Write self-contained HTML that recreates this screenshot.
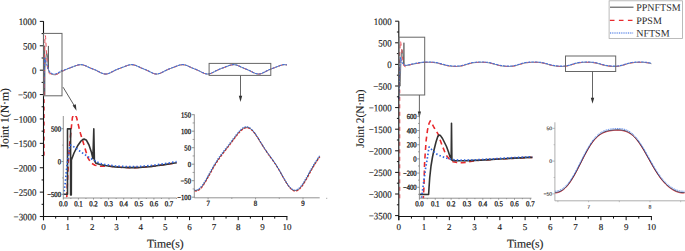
<!DOCTYPE html>
<html><head><meta charset="utf-8"><style>
html,body{margin:0;padding:0;background:#fff;width:685px;height:251px;overflow:hidden;}
svg{display:block;font-family:"Liberation Serif",serif;}
text{stroke:#222;stroke-width:0.15px;}
.sm{stroke-width:0.3px;fill:#111;}
</style></head><body>
<svg width="685" height="251" viewBox="0 0 685 251" font-family="Liberation Serif"><defs><clipPath id="cA1"><rect x="63.3" y="116" width="114" height="82"/></clipPath><clipPath id="cA2"><rect x="194.3" y="100" width="126" height="98"/></clipPath><clipPath id="cB1"><rect x="419.4" y="110" width="113" height="88.2"/></clipPath><clipPath id="cB2"><rect x="554.9" y="115" width="131" height="85.8"/></clipPath></defs>
<polyline points="43.5,94.57 44.18,94.57 44.18,45.94 44.68,45.94 44.68,95.02 44.79,95.02 44.81,69.06 45.22,63.86 45.87,58.06 46.35,54.94 46.68,53.75 46.92,53.52 47.24,54.42 47.64,57.91 48.05,63.49 48.27,67.95 48.42,45.94 48.51,69.44 48.77,71.52 49.42,72.41 50.22,73.15 51.03,73.75 51.83,74.2 52.64,74.49 53.45,74.64 54.25,74.72 55.06,74.72 55.86,74.57 56.67,74.27 57.48,73.97 58.28,73.53 59.09,73.01 59.89,72.49 60.7,71.89 61.76,71.07 62.49,71.2 62.97,70.94 63.46,70.7 63.95,70.46 64.43,70.22 64.92,70 65.41,69.78 65.89,69.56 66.38,69.36 66.87,69.16 67.35,68.97 67.84,68.78 68.33,68.59 68.81,68.41 69.3,68.23 69.79,68.05 70.27,67.87 70.76,67.69 71.25,67.51 71.73,67.33 72.22,67.14 72.71,66.96 73.19,66.77 73.68,66.58 74.17,66.39 74.66,66.2 75.14,66.02 75.63,65.84 76.12,65.66 76.6,65.49 77.09,65.34 77.58,65.2 78.06,65.07 78.55,64.96 79.04,64.87 79.52,64.8 80.01,64.75 80.5,64.72 80.98,64.73 81.47,64.75 81.96,64.8 82.44,64.88 82.93,64.98 83.42,65.11 83.9,65.25 84.39,65.42 84.88,65.6 85.36,65.79 85.85,66 86.34,66.22 86.83,66.44 87.31,66.67 87.8,66.9 88.29,67.13 88.77,67.35 89.26,67.58 89.75,67.8 90.23,68.01 90.72,68.22 91.21,68.42 91.69,68.62 92.18,68.81 92.67,69.01 93.15,69.2 93.64,69.39 94.13,69.59 94.61,69.79 95.1,69.99 95.59,70.2 96.07,70.42 96.56,70.64 97.05,70.88 97.53,71.11 98.02,71.36 98.51,71.61 99,71.86 99.48,72.11 99.97,72.36 100.46,72.6 100.94,72.83 101.43,73.05 101.92,73.26 102.4,73.45 102.89,73.62 103.38,73.76 103.86,73.88 104.35,73.97 104.84,74.04 105.32,74.07 105.81,74.07 106.3,74.04 106.78,73.98 107.27,73.89 107.76,73.78 108.24,73.64 108.73,73.47 109.22,73.29 109.7,73.09 110.19,72.87 110.68,72.63 111.17,72.39 111.65,72.14 112.14,71.89 112.63,71.63 113.11,71.38 113.6,71.12 114.09,70.87 114.57,70.63 115.06,70.39 115.55,70.16 116.03,69.93 116.52,69.72 117.01,69.51 117.49,69.3 117.98,69.1 118.47,68.91 118.95,68.72 119.44,68.54 119.93,68.36 120.41,68.18 120.9,68 121.39,67.82 121.87,67.64 122.36,67.46 122.85,67.28 123.34,67.09 123.82,66.9 124.31,66.72 124.8,66.53 125.28,66.34 125.77,66.15 126.26,65.97 126.74,65.79 127.23,65.61 127.72,65.45 128.2,65.3 128.69,65.16 129.18,65.03 129.66,64.93 130.15,64.84 130.64,64.78 131.12,64.74 131.61,64.72 132.1,64.73 132.58,64.76 133.07,64.82 133.56,64.91 134.04,65.01 134.53,65.14 135.02,65.29 135.51,65.46 135.99,65.65 136.48,65.85 136.97,66.06 137.45,66.28 137.94,66.51 138.43,66.73 138.91,66.96 139.4,67.19 139.89,67.42 140.37,67.64 140.86,67.86 141.35,68.07 141.83,68.27 142.32,68.48 142.81,68.67 143.29,68.87 143.78,69.06 144.27,69.25 144.75,69.45 145.24,69.64 145.73,69.84 146.21,70.05 146.7,70.26 147.19,70.48 147.68,70.71 148.16,70.94 148.65,71.18 149.14,71.43 149.62,71.68 150.11,71.93 150.6,72.18 151.08,72.42 151.57,72.66 152.06,72.9 152.54,73.11 153.03,73.32 153.52,73.5 154,73.66 154.49,73.8 154.98,73.91 155.46,73.99 155.95,74.05 156.44,74.07 156.92,74.07 157.41,74.03 157.9,73.96 158.38,73.87 158.87,73.74 159.36,73.59 159.85,73.42 160.33,73.23 160.82,73.03 161.31,72.8 161.79,72.57 162.28,72.32 162.77,72.07 163.25,71.82 163.74,71.56 164.23,71.31 164.71,71.05 165.2,70.81 165.69,70.56 166.17,70.32 166.66,70.09 167.15,69.87 167.63,69.66 168.12,69.45 168.61,69.25 169.09,69.05 169.58,68.86 170.07,68.67 170.55,68.49 171.04,68.31 171.53,68.13 172.02,67.95 172.5,67.77 172.99,67.59 173.48,67.41 173.96,67.22 174.45,67.04 174.94,66.85 175.42,66.66 175.91,66.47 176.4,66.28 176.88,66.1 177.37,65.91 177.86,65.74 178.34,65.57 178.83,65.41 179.32,65.26 179.8,65.12 180.29,65 180.78,64.9 181.26,64.82 181.75,64.77 182.24,64.73 182.72,64.72 183.21,64.74 183.7,64.78 184.19,64.84 184.67,64.93 185.16,65.05 185.65,65.18 186.13,65.34 186.62,65.51 187.11,65.7 187.59,65.91 188.08,66.12 188.57,66.34 189.05,66.57 189.54,66.8 190.03,67.03 190.51,67.26 191,67.48 191.49,67.7 191.97,67.92 192.46,68.13 192.95,68.33 193.43,68.53 193.92,68.73 194.41,68.92 194.89,69.11 195.38,69.31 195.87,69.5 196.36,69.7 196.84,69.9 197.33,70.11 197.82,70.32 198.3,70.54 198.79,70.77 199.28,71.01 199.76,71.25 200.25,71.5 200.74,71.75 201.22,72 201.71,72.25 202.2,72.49 202.68,72.73 203.17,72.96 203.66,73.17 204.14,73.37 204.63,73.55 205.12,73.7 205.6,73.83 206.09,73.94 206.58,74.01 207.06,74.06 207.55,74.07 208.04,74.06 208.53,74.01 209.01,73.94 209.5,73.83 209.99,73.7 210.47,73.55 210.96,73.37 211.45,73.18 211.93,72.96 212.42,72.74 212.91,72.5 213.39,72.25 213.88,72 214.37,71.75 214.85,71.49 215.34,71.24 215.83,70.98 216.31,70.74 216.8,70.49 217.29,70.26 217.77,70.03 218.26,69.81 218.75,69.6 219.23,69.39 219.72,69.19 220.21,69 220.7,68.81 221.18,68.62 221.67,68.44 222.16,68.26 222.64,68.08 223.13,67.9 223.62,67.72 224.1,67.54 224.59,67.36 225.08,67.17 225.56,66.99 226.05,66.8 226.54,66.61 227.02,66.42 227.51,66.23 228,66.05 228.48,65.86 228.97,65.69 229.46,65.52 229.94,65.36 230.43,65.22 230.92,65.09 231.4,64.97 231.89,64.88 232.38,64.81 232.87,64.75 233.35,64.73 233.84,64.72 234.33,64.75 234.81,64.79 235.3,64.87 235.79,64.96 236.27,65.08 236.76,65.23 237.25,65.39 237.73,65.57 238.22,65.76 238.71,65.97 239.19,66.18 239.68,66.41 240.17,66.63 240.65,66.86 241.14,67.09 241.63,67.32 242.11,67.54 242.6,67.76 243.09,67.98 243.57,68.18 244.06,68.39 244.55,68.59 245.04,68.78 245.52,68.98 246.01,69.17 246.5,69.36 246.98,69.56 247.47,69.75 247.96,69.96 248.44,70.17 248.93,70.38 249.42,70.61 249.9,70.84 250.39,71.08 250.88,71.32 251.36,71.57 251.85,71.82 252.34,72.07 252.82,72.32 253.31,72.56 253.8,72.8 254.28,73.02 254.77,73.23 255.26,73.42 255.74,73.59 256.23,73.74 256.72,73.87 257.21,73.96 257.69,74.03 258.18,74.07 258.67,74.07 259.15,74.05 259.64,73.99 260.13,73.91 260.61,73.8 261.1,73.66 261.59,73.5 262.07,73.32 262.56,73.12 263.05,72.9 263.53,72.67 264.02,72.43 264.51,72.18 264.99,71.93 265.48,71.67 265.97,71.42 266.45,71.16 266.94,70.91 267.43,70.67 267.91,70.43 268.4,70.19 268.89,69.97 269.38,69.75 269.86,69.54 270.35,69.33 270.84,69.14 271.32,68.94 271.81,68.75 272.3,68.57 272.78,68.39 273.27,68.21 273.76,68.03 274.24,67.85 274.73,67.67 275.22,67.49 275.7,67.31 276.19,67.12 276.68,66.93 277.16,66.75 277.65,66.56 278.14,66.37 278.62,66.18 279.11,65.99 279.6,65.81 280.08,65.64 280.57,65.47 281.06,65.32 281.55,65.18 282.03,65.05 282.52,64.94 283.01,64.86 283.49,64.79 283.98,64.74 284.47,64.72 284.95,64.73 285.44,64.76 285.93,64.81 286.41,64.89 286.9,65" fill="none" stroke="#555" stroke-width="0.8" stroke-linejoin="round" />
<polyline points="44.35,155.55 44.35,99.45 44.06,96.58 44.23,80.22 44.34,69.06 44.52,57.91 44.64,51.96 44.76,46.76 44.87,41.55 44.97,37.46 45.11,35.9 45.27,35.45 45.47,35.9 45.64,37.46 45.84,41.18 46.08,46.01 46.27,49.36 46.84,57.91 47.47,67.43 47.97,71.3 48.61,72.93 49.42,73.67 51.03,73.75 51.83,74.2 52.64,74.49 53.45,74.64 54.25,74.72 55.06,74.72 55.86,74.57 56.67,74.27 57.48,73.97 58.28,73.53 59.09,73.01 59.89,72.49 60.7,71.89 61.76,71.07 62.49,71.2 62.97,70.94 63.46,70.7 63.95,70.46 64.43,70.22 64.92,70 65.41,69.78 65.89,69.56 66.38,69.36 66.87,69.16 67.35,68.97 67.84,68.78 68.33,68.59 68.81,68.41 69.3,68.23 69.79,68.05 70.27,67.87 70.76,67.69 71.25,67.51 71.73,67.33 72.22,67.14 72.71,66.96 73.19,66.77 73.68,66.58 74.17,66.39 74.66,66.2 75.14,66.02 75.63,65.84 76.12,65.66 76.6,65.49 77.09,65.34 77.58,65.2 78.06,65.07 78.55,64.96 79.04,64.87 79.52,64.8 80.01,64.75 80.5,64.72 80.98,64.73 81.47,64.75 81.96,64.8 82.44,64.88 82.93,64.98 83.42,65.11 83.9,65.25 84.39,65.42 84.88,65.6 85.36,65.79 85.85,66 86.34,66.22 86.83,66.44 87.31,66.67 87.8,66.9 88.29,67.13 88.77,67.35 89.26,67.58 89.75,67.8 90.23,68.01 90.72,68.22 91.21,68.42 91.69,68.62 92.18,68.81 92.67,69.01 93.15,69.2 93.64,69.39 94.13,69.59 94.61,69.79 95.1,69.99 95.59,70.2 96.07,70.42 96.56,70.64 97.05,70.88 97.53,71.11 98.02,71.36 98.51,71.61 99,71.86 99.48,72.11 99.97,72.36 100.46,72.6 100.94,72.83 101.43,73.05 101.92,73.26 102.4,73.45 102.89,73.62 103.38,73.76 103.86,73.88 104.35,73.97 104.84,74.04 105.32,74.07 105.81,74.07 106.3,74.04 106.78,73.98 107.27,73.89 107.76,73.78 108.24,73.64 108.73,73.47 109.22,73.29 109.7,73.09 110.19,72.87 110.68,72.63 111.17,72.39 111.65,72.14 112.14,71.89 112.63,71.63 113.11,71.38 113.6,71.12 114.09,70.87 114.57,70.63 115.06,70.39 115.55,70.16 116.03,69.93 116.52,69.72 117.01,69.51 117.49,69.3 117.98,69.1 118.47,68.91 118.95,68.72 119.44,68.54 119.93,68.36 120.41,68.18 120.9,68 121.39,67.82 121.87,67.64 122.36,67.46 122.85,67.28 123.34,67.09 123.82,66.9 124.31,66.72 124.8,66.53 125.28,66.34 125.77,66.15 126.26,65.97 126.74,65.79 127.23,65.61 127.72,65.45 128.2,65.3 128.69,65.16 129.18,65.03 129.66,64.93 130.15,64.84 130.64,64.78 131.12,64.74 131.61,64.72 132.1,64.73 132.58,64.76 133.07,64.82 133.56,64.91 134.04,65.01 134.53,65.14 135.02,65.29 135.51,65.46 135.99,65.65 136.48,65.85 136.97,66.06 137.45,66.28 137.94,66.51 138.43,66.73 138.91,66.96 139.4,67.19 139.89,67.42 140.37,67.64 140.86,67.86 141.35,68.07 141.83,68.27 142.32,68.48 142.81,68.67 143.29,68.87 143.78,69.06 144.27,69.25 144.75,69.45 145.24,69.64 145.73,69.84 146.21,70.05 146.7,70.26 147.19,70.48 147.68,70.71 148.16,70.94 148.65,71.18 149.14,71.43 149.62,71.68 150.11,71.93 150.6,72.18 151.08,72.42 151.57,72.66 152.06,72.9 152.54,73.11 153.03,73.32 153.52,73.5 154,73.66 154.49,73.8 154.98,73.91 155.46,73.99 155.95,74.05 156.44,74.07 156.92,74.07 157.41,74.03 157.9,73.96 158.38,73.87 158.87,73.74 159.36,73.59 159.85,73.42 160.33,73.23 160.82,73.03 161.31,72.8 161.79,72.57 162.28,72.32 162.77,72.07 163.25,71.82 163.74,71.56 164.23,71.31 164.71,71.05 165.2,70.81 165.69,70.56 166.17,70.32 166.66,70.09 167.15,69.87 167.63,69.66 168.12,69.45 168.61,69.25 169.09,69.05 169.58,68.86 170.07,68.67 170.55,68.49 171.04,68.31 171.53,68.13 172.02,67.95 172.5,67.77 172.99,67.59 173.48,67.41 173.96,67.22 174.45,67.04 174.94,66.85 175.42,66.66 175.91,66.47 176.4,66.28 176.88,66.1 177.37,65.91 177.86,65.74 178.34,65.57 178.83,65.41 179.32,65.26 179.8,65.12 180.29,65 180.78,64.9 181.26,64.82 181.75,64.77 182.24,64.73 182.72,64.72 183.21,64.74 183.7,64.78 184.19,64.84 184.67,64.93 185.16,65.05 185.65,65.18 186.13,65.34 186.62,65.51 187.11,65.7 187.59,65.91 188.08,66.12 188.57,66.34 189.05,66.57 189.54,66.8 190.03,67.03 190.51,67.26 191,67.48 191.49,67.7 191.97,67.92 192.46,68.13 192.95,68.33 193.43,68.53 193.92,68.73 194.41,68.92 194.89,69.11 195.38,69.31 195.87,69.5 196.36,69.7 196.84,69.9 197.33,70.11 197.82,70.32 198.3,70.54 198.79,70.77 199.28,71.01 199.76,71.25 200.25,71.5 200.74,71.75 201.22,72 201.71,72.25 202.2,72.49 202.68,72.73 203.17,72.96 203.66,73.17 204.14,73.37 204.63,73.55 205.12,73.7 205.6,73.83 206.09,73.94 206.58,74.01 207.06,74.06 207.55,74.07 208.04,74.06 208.53,74.01 209.01,73.94 209.5,73.83 209.99,73.7 210.47,73.55 210.96,73.37 211.45,73.18 211.93,72.96 212.42,72.74 212.91,72.5 213.39,72.25 213.88,72 214.37,71.75 214.85,71.49 215.34,71.24 215.83,70.98 216.31,70.74 216.8,70.49 217.29,70.26 217.77,70.03 218.26,69.81 218.75,69.6 219.23,69.39 219.72,69.19 220.21,69 220.7,68.81 221.18,68.62 221.67,68.44 222.16,68.26 222.64,68.08 223.13,67.9 223.62,67.72 224.1,67.54 224.59,67.36 225.08,67.17 225.56,66.99 226.05,66.8 226.54,66.61 227.02,66.42 227.51,66.23 228,66.05 228.48,65.86 228.97,65.69 229.46,65.52 229.94,65.36 230.43,65.22 230.92,65.09 231.4,64.97 231.89,64.88 232.38,64.81 232.87,64.75 233.35,64.73 233.84,64.72 234.33,64.75 234.81,64.79 235.3,64.87 235.79,64.96 236.27,65.08 236.76,65.23 237.25,65.39 237.73,65.57 238.22,65.76 238.71,65.97 239.19,66.18 239.68,66.41 240.17,66.63 240.65,66.86 241.14,67.09 241.63,67.32 242.11,67.54 242.6,67.76 243.09,67.98 243.57,68.18 244.06,68.39 244.55,68.59 245.04,68.78 245.52,68.98 246.01,69.17 246.5,69.36 246.98,69.56 247.47,69.75 247.96,69.96 248.44,70.17 248.93,70.38 249.42,70.61 249.9,70.84 250.39,71.08 250.88,71.32 251.36,71.57 251.85,71.82 252.34,72.07 252.82,72.32 253.31,72.56 253.8,72.8 254.28,73.02 254.77,73.23 255.26,73.42 255.74,73.59 256.23,73.74 256.72,73.87 257.21,73.96 257.69,74.03 258.18,74.07 258.67,74.07 259.15,74.05 259.64,73.99 260.13,73.91 260.61,73.8 261.1,73.66 261.59,73.5 262.07,73.32 262.56,73.12 263.05,72.9 263.53,72.67 264.02,72.43 264.51,72.18 264.99,71.93 265.48,71.67 265.97,71.42 266.45,71.16 266.94,70.91 267.43,70.67 267.91,70.43 268.4,70.19 268.89,69.97 269.38,69.75 269.86,69.54 270.35,69.33 270.84,69.14 271.32,68.94 271.81,68.75 272.3,68.57 272.78,68.39 273.27,68.21 273.76,68.03 274.24,67.85 274.73,67.67 275.22,67.49 275.7,67.31 276.19,67.12 276.68,66.93 277.16,66.75 277.65,66.56 278.14,66.37 278.62,66.18 279.11,65.99 279.6,65.81 280.08,65.64 280.57,65.47 281.06,65.32 281.55,65.18 282.03,65.05 282.52,64.94 283.01,64.86 283.49,64.79 283.98,64.74 284.47,64.72 284.95,64.73 285.44,64.76 285.93,64.81 286.41,64.89 286.9,65" fill="none" stroke="#e8505a" stroke-width="1.0" stroke-dasharray="4 3.5" stroke-linejoin="round" />
<polyline points="43.5,95.09 43.77,87.65 44.1,72.78 44.42,63.12 44.58,57.91 44.9,58.28 45.55,60.36 46.19,62.52 46.84,64.6 47.48,66.69 48.13,68.47 48.77,70.03 49.42,71.67 50.22,72.41 51.03,73.01 51.83,73.45 52.64,73.75 53.45,73.9 54.25,73.97 55.06,73.97 55.86,73.82 56.67,73.53 57.48,73.23 58.28,72.78 59.09,72.26 59.89,71.74 60.7,71.15 61.76,70.33 62.49,71.05 62.97,70.8 63.46,70.55 63.95,70.31 64.43,70.08 64.92,69.85 65.41,69.63 65.89,69.42 66.38,69.21 66.87,69.01 67.35,68.82 67.84,68.63 68.33,68.45 68.81,68.26 69.3,68.08 69.79,67.9 70.27,67.73 70.76,67.55 71.25,67.36 71.73,67.18 72.22,67 72.71,66.81 73.19,66.62 73.68,66.43 74.17,66.24 74.66,66.06 75.14,65.87 75.63,65.69 76.12,65.51 76.6,65.35 77.09,65.19 77.58,65.05 78.06,64.92 78.55,64.81 79.04,64.72 79.52,64.65 80.01,64.6 80.5,64.58 80.98,64.58 81.47,64.61 81.96,64.66 82.44,64.73 82.93,64.84 83.42,64.96 83.9,65.1 84.39,65.27 84.88,65.45 85.36,65.65 85.85,65.85 86.34,66.07 86.83,66.3 87.31,66.52 87.8,66.75 88.29,66.98 88.77,67.21 89.26,67.43 89.75,67.65 90.23,67.86 90.72,68.07 91.21,68.27 91.69,68.47 92.18,68.67 92.67,68.86 93.15,69.05 93.64,69.25 94.13,69.44 94.61,69.64 95.1,69.85 95.59,70.06 96.07,70.27 96.56,70.5 97.05,70.73 97.53,70.97 98.02,71.21 98.51,71.46 99,71.71 99.48,71.96 99.97,72.21 100.46,72.45 100.94,72.69 101.43,72.91 101.92,73.11 102.4,73.3 102.89,73.47 103.38,73.62 103.86,73.74 104.35,73.83 104.84,73.89 105.32,73.92 105.81,73.92 106.3,73.9 106.78,73.84 107.27,73.75 107.76,73.63 108.24,73.49 108.73,73.33 109.22,73.14 109.7,72.94 110.19,72.72 110.68,72.49 111.17,72.25 111.65,72 112.14,71.74 112.63,71.49 113.11,71.23 113.6,70.98 114.09,70.73 114.57,70.48 115.06,70.24 115.55,70.01 116.03,69.79 116.52,69.57 117.01,69.36 117.49,69.16 117.98,68.96 118.47,68.77 118.95,68.58 119.44,68.39 119.93,68.21 120.41,68.03 120.9,67.85 121.39,67.68 121.87,67.5 122.36,67.31 122.85,67.13 123.34,66.94 123.82,66.76 124.31,66.57 124.8,66.38 125.28,66.19 125.77,66 126.26,65.82 126.74,65.64 127.23,65.47 127.72,65.3 128.2,65.15 128.69,65.01 129.18,64.89 129.66,64.78 130.15,64.7 130.64,64.63 131.12,64.59 131.61,64.58 132.1,64.58 132.58,64.62 133.07,64.68 133.56,64.76 134.04,64.87 134.53,65 135.02,65.15 135.51,65.32 135.99,65.5 136.48,65.7 136.97,65.91 137.45,66.13 137.94,66.36 138.43,66.59 138.91,66.82 139.4,67.05 139.89,67.27 140.37,67.49 140.86,67.71 141.35,67.92 141.83,68.13 142.32,68.33 142.81,68.53 143.29,68.72 143.78,68.91 144.27,69.11 144.75,69.3 145.24,69.5 145.73,69.7 146.21,69.9 146.7,70.12 147.19,70.34 147.68,70.56 148.16,70.8 148.65,71.04 149.14,71.28 149.62,71.53 150.11,71.78 150.6,72.03 151.08,72.28 151.57,72.52 152.06,72.75 152.54,72.97 153.03,73.17 153.52,73.35 154,73.52 154.49,73.65 154.98,73.76 155.46,73.85 155.95,73.9 156.44,73.93 156.92,73.92 157.41,73.88 157.9,73.81 158.38,73.72 158.87,73.6 159.36,73.45 159.85,73.28 160.33,73.09 160.82,72.88 161.31,72.66 161.79,72.42 162.28,72.18 162.77,71.93 163.25,71.67 163.74,71.42 164.23,71.16 164.71,70.91 165.2,70.66 165.69,70.42 166.17,70.18 166.66,69.95 167.15,69.73 167.63,69.51 168.12,69.3 168.61,69.1 169.09,68.9 169.58,68.71 170.07,68.53 170.55,68.34 171.04,68.16 171.53,67.98 172.02,67.8 172.5,67.62 172.99,67.44 173.48,67.26 173.96,67.08 174.45,66.89 174.94,66.7 175.42,66.52 175.91,66.33 176.4,66.14 176.88,65.95 177.37,65.77 177.86,65.59 178.34,65.42 178.83,65.26 179.32,65.11 179.8,64.98 180.29,64.86 180.78,64.76 181.26,64.68 181.75,64.62 182.24,64.59 182.72,64.58 183.21,64.59 183.7,64.63 184.19,64.7 184.67,64.79 185.16,64.9 185.65,65.04 186.13,65.19 186.62,65.37 187.11,65.56 187.59,65.76 188.08,65.98 188.57,66.2 189.05,66.42 189.54,66.65 190.03,66.88 190.51,67.11 191,67.33 191.49,67.55 191.97,67.77 192.46,67.98 192.95,68.19 193.43,68.39 193.92,68.58 194.41,68.78 194.89,68.97 195.38,69.16 195.87,69.36 196.36,69.55 196.84,69.75 197.33,69.96 197.82,70.18 198.3,70.4 198.79,70.63 199.28,70.86 199.76,71.1 200.25,71.35 200.74,71.6 201.22,71.85 201.71,72.1 202.2,72.35 202.68,72.58 203.17,72.81 203.66,73.03 204.14,73.22 204.63,73.4 205.12,73.56 205.6,73.69 206.09,73.79 206.58,73.87 207.06,73.91 207.55,73.93 208.04,73.91 208.53,73.87 209.01,73.79 209.5,73.69 209.99,73.56 210.47,73.4 210.96,73.23 211.45,73.03 211.93,72.82 212.42,72.59 212.91,72.35 213.39,72.11 213.88,71.85 214.37,71.6 214.85,71.34 215.34,71.09 215.83,70.84 216.31,70.59 216.8,70.35 217.29,70.11 217.77,69.88 218.26,69.66 218.75,69.45 219.23,69.24 219.72,69.04 220.21,68.85 220.7,68.66 221.18,68.47 221.67,68.29 222.16,68.11 222.64,67.93 223.13,67.75 223.62,67.57 224.1,67.39 224.59,67.21 225.08,67.03 225.56,66.84 226.05,66.65 226.54,66.46 227.02,66.27 227.51,66.09 228,65.9 228.48,65.72 228.97,65.54 229.46,65.37 229.94,65.22 230.43,65.07 230.92,64.94 231.4,64.83 231.89,64.73 232.38,64.66 232.87,64.61 233.35,64.58 233.84,64.58 234.33,64.6 234.81,64.65 235.3,64.72 235.79,64.82 236.27,64.94 236.76,65.08 237.25,65.24 237.73,65.42 238.22,65.61 238.71,65.82 239.19,66.04 239.68,66.26 240.17,66.49 240.65,66.72 241.14,66.95 241.63,67.17 242.11,67.4 242.6,67.62 243.09,67.83 243.57,68.04 244.06,68.24 244.55,68.44 245.04,68.64 245.52,68.83 246.01,69.02 246.5,69.22 246.98,69.41 247.47,69.61 247.96,69.81 248.44,70.02 248.93,70.24 249.42,70.46 249.9,70.69 250.39,70.93 250.88,71.17 251.36,71.42 251.85,71.67 252.34,71.92 252.82,72.17 253.31,72.41 253.8,72.65 254.28,72.87 254.77,73.08 255.26,73.28 255.74,73.45 256.23,73.6 256.72,73.72 257.21,73.82 257.69,73.88 258.18,73.92 258.67,73.93 259.15,73.9 259.64,73.85 260.13,73.76 260.61,73.65 261.1,73.52 261.59,73.36 262.07,73.17 262.56,72.97 263.05,72.76 263.53,72.53 264.02,72.28 264.51,72.04 264.99,71.78 265.48,71.53 265.97,71.27 266.45,71.02 266.94,70.77 267.43,70.52 267.91,70.28 268.4,70.05 268.89,69.82 269.38,69.6 269.86,69.39 270.35,69.19 270.84,68.99 271.32,68.8 271.81,68.61 272.3,68.42 272.78,68.24 273.27,68.06 273.76,67.88 274.24,67.7 274.73,67.52 275.22,67.34 275.7,67.16 276.19,66.97 276.68,66.79 277.16,66.6 277.65,66.41 278.14,66.22 278.62,66.03 279.11,65.85 279.6,65.67 280.08,65.49 280.57,65.33 281.06,65.17 281.55,65.03 282.03,64.91 282.52,64.8 283.01,64.71 283.49,64.64 283.98,64.6 284.47,64.58 284.95,64.58 285.44,64.61 285.93,64.67 286.41,64.74 286.9,64.85" fill="none" stroke="#4470dc" stroke-width="1.05" stroke-dasharray="2.6 1" stroke-linejoin="round" />
<line x1="43.5" y1="21.2" x2="43.5" y2="220.2" stroke="#111" stroke-width="1.1"/>
<line x1="43" y1="216.5" x2="287.4" y2="216.5" stroke="#111" stroke-width="1.1"/>
<line x1="39.8" y1="21.4" x2="43.5" y2="21.4" stroke="#111" stroke-width="1"/>
<text transform="translate(36.5,25.1) scale(0.92,1) rotate(0.05)" font-size="9.7" text-anchor="end" fill="#222" >1000</text>
<line x1="41.6" y1="33.6" x2="43.5" y2="33.6" stroke="#111" stroke-width="1"/>
<line x1="39.8" y1="45.79" x2="43.5" y2="45.79" stroke="#111" stroke-width="1"/>
<text transform="translate(36.5,49.49) scale(0.92,1) rotate(0.05)" font-size="9.7" text-anchor="end" fill="#222" >500</text>
<line x1="41.6" y1="57.99" x2="43.5" y2="57.99" stroke="#111" stroke-width="1"/>
<line x1="39.8" y1="70.18" x2="43.5" y2="70.18" stroke="#111" stroke-width="1"/>
<text transform="translate(36.5,73.88) scale(0.92,1) rotate(0.05)" font-size="9.7" text-anchor="end" fill="#222" >0</text>
<line x1="41.6" y1="82.38" x2="43.5" y2="82.38" stroke="#111" stroke-width="1"/>
<line x1="39.8" y1="94.57" x2="43.5" y2="94.57" stroke="#111" stroke-width="1"/>
<text transform="translate(36.5,98.27) scale(0.92,1) rotate(0.05)" font-size="9.7" text-anchor="end" fill="#222" >−500</text>
<line x1="41.6" y1="106.77" x2="43.5" y2="106.77" stroke="#111" stroke-width="1"/>
<line x1="39.8" y1="118.96" x2="43.5" y2="118.96" stroke="#111" stroke-width="1"/>
<text transform="translate(36.5,122.66) scale(0.92,1) rotate(0.05)" font-size="9.7" text-anchor="end" fill="#222" >−1000</text>
<line x1="41.6" y1="131.16" x2="43.5" y2="131.16" stroke="#111" stroke-width="1"/>
<line x1="39.8" y1="143.35" x2="43.5" y2="143.35" stroke="#111" stroke-width="1"/>
<text transform="translate(36.5,147.05) scale(0.92,1) rotate(0.05)" font-size="9.7" text-anchor="end" fill="#222" >−1500</text>
<line x1="41.6" y1="155.55" x2="43.5" y2="155.55" stroke="#111" stroke-width="1"/>
<line x1="39.8" y1="167.74" x2="43.5" y2="167.74" stroke="#111" stroke-width="1"/>
<text transform="translate(36.5,171.44) scale(0.92,1) rotate(0.05)" font-size="9.7" text-anchor="end" fill="#222" >−2000</text>
<line x1="41.6" y1="179.94" x2="43.5" y2="179.94" stroke="#111" stroke-width="1"/>
<line x1="39.8" y1="192.13" x2="43.5" y2="192.13" stroke="#111" stroke-width="1"/>
<text transform="translate(36.5,195.83) scale(0.92,1) rotate(0.05)" font-size="9.7" text-anchor="end" fill="#222" >−2500</text>
<line x1="41.6" y1="204.32" x2="43.5" y2="204.32" stroke="#111" stroke-width="1"/>
<line x1="39.8" y1="216.52" x2="43.5" y2="216.52" stroke="#111" stroke-width="1"/>
<text transform="translate(36.5,220.22) scale(0.92,1) rotate(0.05)" font-size="9.7" text-anchor="end" fill="#222" >−3000</text>
<line x1="43.5" y1="216.5" x2="43.5" y2="220.2" stroke="#111" stroke-width="1"/>
<text transform="translate(43.5,229.9) rotate(0.05)" font-size="9" text-anchor="middle" fill="#222" >0</text>
<line x1="55.67" y1="216.5" x2="55.67" y2="218.6" stroke="#111" stroke-width="1"/>
<line x1="67.84" y1="216.5" x2="67.84" y2="220.2" stroke="#111" stroke-width="1"/>
<text transform="translate(67.84,229.9) rotate(0.05)" font-size="9" text-anchor="middle" fill="#222" >1</text>
<line x1="80.01" y1="216.5" x2="80.01" y2="218.6" stroke="#111" stroke-width="1"/>
<line x1="92.18" y1="216.5" x2="92.18" y2="220.2" stroke="#111" stroke-width="1"/>
<text transform="translate(92.18,229.9) rotate(0.05)" font-size="9" text-anchor="middle" fill="#222" >2</text>
<line x1="104.35" y1="216.5" x2="104.35" y2="218.6" stroke="#111" stroke-width="1"/>
<line x1="116.52" y1="216.5" x2="116.52" y2="220.2" stroke="#111" stroke-width="1"/>
<text transform="translate(116.52,229.9) rotate(0.05)" font-size="9" text-anchor="middle" fill="#222" >3</text>
<line x1="128.69" y1="216.5" x2="128.69" y2="218.6" stroke="#111" stroke-width="1"/>
<line x1="140.86" y1="216.5" x2="140.86" y2="220.2" stroke="#111" stroke-width="1"/>
<text transform="translate(140.86,229.9) rotate(0.05)" font-size="9" text-anchor="middle" fill="#222" >4</text>
<line x1="153.03" y1="216.5" x2="153.03" y2="218.6" stroke="#111" stroke-width="1"/>
<line x1="165.2" y1="216.5" x2="165.2" y2="220.2" stroke="#111" stroke-width="1"/>
<text transform="translate(165.2,229.9) rotate(0.05)" font-size="9" text-anchor="middle" fill="#222" >5</text>
<line x1="177.37" y1="216.5" x2="177.37" y2="218.6" stroke="#111" stroke-width="1"/>
<line x1="189.54" y1="216.5" x2="189.54" y2="220.2" stroke="#111" stroke-width="1"/>
<text transform="translate(189.54,229.9) rotate(0.05)" font-size="9" text-anchor="middle" fill="#222" >6</text>
<line x1="201.71" y1="216.5" x2="201.71" y2="218.6" stroke="#111" stroke-width="1"/>
<line x1="213.88" y1="216.5" x2="213.88" y2="220.2" stroke="#111" stroke-width="1"/>
<text transform="translate(213.88,229.9) rotate(0.05)" font-size="9" text-anchor="middle" fill="#222" >7</text>
<line x1="226.05" y1="216.5" x2="226.05" y2="218.6" stroke="#111" stroke-width="1"/>
<line x1="238.22" y1="216.5" x2="238.22" y2="220.2" stroke="#111" stroke-width="1"/>
<text transform="translate(238.22,229.9) rotate(0.05)" font-size="9" text-anchor="middle" fill="#222" >8</text>
<line x1="250.39" y1="216.5" x2="250.39" y2="218.6" stroke="#111" stroke-width="1"/>
<line x1="262.56" y1="216.5" x2="262.56" y2="220.2" stroke="#111" stroke-width="1"/>
<text transform="translate(262.56,229.9) rotate(0.05)" font-size="9" text-anchor="middle" fill="#222" >9</text>
<line x1="274.73" y1="216.5" x2="274.73" y2="218.6" stroke="#111" stroke-width="1"/>
<line x1="286.9" y1="216.5" x2="286.9" y2="220.2" stroke="#111" stroke-width="1"/>
<text transform="translate(286.9,229.9) rotate(0.05)" font-size="9" text-anchor="middle" fill="#222" >10</text>
<text transform="translate(165.3,247.6) rotate(0.05)" font-size="11.7" text-anchor="middle" fill="#222" >Time(s)</text>
<text transform="translate(8.6,118.3) rotate(-89.95)" font-size="11.6" text-anchor="middle" fill="#222">Joint 1(N·m)</text>
<rect x="43.5" y="33.4" width="18.5" height="62.4" fill="none" stroke="#666" stroke-width="1"/>
<rect x="209.1" y="63.4" width="61.7" height="12" fill="none" stroke="#666" stroke-width="1"/>
<line x1="63.1" y1="87.2" x2="75.4" y2="107.5" stroke="#333" stroke-width="0.8"/>
<polygon points="76.5,110.8 72.6,105.6 75.8,104.2" fill="#333"/>
<line x1="240.5" y1="75.6" x2="240.5" y2="97" stroke="#555" stroke-width="0.9"/>
<polygon points="240.5,102 238.8,95.8 242.2,95.8" fill="#333"/>
<g clip-path="url(#cA1)">
<polyline points="68.58,276.3 68.58,200.86 66.8,197 67.8,175 68.5,160 69.6,145 70.4,137 71.1,130 71.8,123 72.4,117.5 73.3,115.4 74.3,114.8 75.5,115.4 76.6,117.5 77.8,122.5 79.3,129 80.5,133.5 84,145 87.9,157.8 91,163 95,165.2 100,166.2 110,166.3 115,166.9 120,167.3 125,167.5 130,167.6 135,167.6 140,167.4 145,167 150,166.6 155,166 160,165.3 165,164.6 170,163.8 176.6,162.7" fill="none" stroke="#e82a2e" stroke-width="1.6" stroke-dasharray="5 3.5" stroke-linejoin="round" stroke-dashoffset="5.38"/>
<polyline points="63.3,194.3 67.5,194.3 67.5,128.9 70.6,128.9 70.6,194.9 71.3,194.9 71.4,160 74,153 78,145.2 81,141 83,139.4 84.5,139.1 86.5,140.3 89,145 91.5,152.5 92.9,158.5 93.8,128.9 94.4,160.5 96,163.3 100,164.5 105,165.5 110,166.3 115,166.9 120,167.3 125,167.5 130,167.6 135,167.6 140,167.4 145,167 150,166.6 155,166 160,165.3 165,164.6 170,163.8 176.6,162.7" fill="none" stroke="#333" stroke-width="1.6" stroke-linejoin="round" />
<polyline points="63.3,195 65,185 67,165 69,152 70,145 72,145.5 76,148.3 80,151.2 84,154 88,156.8 92,159.2 96,161.3 100,163.5 105,164.5 110,165.3 115,165.9 120,166.3 125,166.5 130,166.6 135,166.6 140,166.4 145,166 150,165.6 155,165 160,164.3 165,163.6 170,162.8 176.6,161.7" fill="none" stroke="#2d64e0" stroke-width="1.7" stroke-dasharray="1.5 2.1" stroke-linejoin="round" />
</g>
<line x1="63.3" y1="116" x2="63.3" y2="198.3" stroke="#777" stroke-width="0.8"/>
<line x1="63.3" y1="198" x2="176.5" y2="198" stroke="#777" stroke-width="0.8"/>
<line x1="61.4" y1="128.7" x2="63.3" y2="128.7" stroke="#777" stroke-width="0.8"/>
<text transform="translate(61,131.4) scale(0.88,1) rotate(0.05)" font-size="7.6" text-anchor="end" fill="#222" class="sm">500</text>
<line x1="61.4" y1="161.5" x2="63.3" y2="161.5" stroke="#777" stroke-width="0.8"/>
<text transform="translate(61,164.2) scale(0.88,1) rotate(0.05)" font-size="7.6" text-anchor="end" fill="#222" class="sm">0</text>
<line x1="61.4" y1="194.3" x2="63.3" y2="194.3" stroke="#777" stroke-width="0.8"/>
<text transform="translate(61,197) scale(0.88,1) rotate(0.05)" font-size="7.6" text-anchor="end" fill="#222" class="sm">−500</text>
<line x1="62.2" y1="145.1" x2="63.3" y2="145.1" stroke="#777" stroke-width="0.7"/>
<line x1="62.2" y1="177.9" x2="63.3" y2="177.9" stroke="#777" stroke-width="0.7"/>
<line x1="63.3" y1="198" x2="63.3" y2="199.6" stroke="#777" stroke-width="0.7"/>
<text transform="translate(63.3,206.3) scale(0.9,1) rotate(0.05)" font-size="7.6" text-anchor="middle" fill="#222" class="sm">0.0</text>
<line x1="70.85" y1="198" x2="70.85" y2="199" stroke="#777" stroke-width="0.7"/>
<line x1="78.4" y1="198" x2="78.4" y2="199.6" stroke="#777" stroke-width="0.7"/>
<text transform="translate(78.4,206.3) scale(0.9,1) rotate(0.05)" font-size="7.6" text-anchor="middle" fill="#222" class="sm">0.1</text>
<line x1="85.95" y1="198" x2="85.95" y2="199" stroke="#777" stroke-width="0.7"/>
<line x1="93.5" y1="198" x2="93.5" y2="199.6" stroke="#777" stroke-width="0.7"/>
<text transform="translate(93.5,206.3) scale(0.9,1) rotate(0.05)" font-size="7.6" text-anchor="middle" fill="#222" class="sm">0.2</text>
<line x1="101.05" y1="198" x2="101.05" y2="199" stroke="#777" stroke-width="0.7"/>
<line x1="108.6" y1="198" x2="108.6" y2="199.6" stroke="#777" stroke-width="0.7"/>
<text transform="translate(108.6,206.3) scale(0.9,1) rotate(0.05)" font-size="7.6" text-anchor="middle" fill="#222" class="sm">0.3</text>
<line x1="116.15" y1="198" x2="116.15" y2="199" stroke="#777" stroke-width="0.7"/>
<line x1="123.7" y1="198" x2="123.7" y2="199.6" stroke="#777" stroke-width="0.7"/>
<text transform="translate(123.7,206.3) scale(0.9,1) rotate(0.05)" font-size="7.6" text-anchor="middle" fill="#222" class="sm">0.4</text>
<line x1="131.25" y1="198" x2="131.25" y2="199" stroke="#777" stroke-width="0.7"/>
<line x1="138.8" y1="198" x2="138.8" y2="199.6" stroke="#777" stroke-width="0.7"/>
<text transform="translate(138.8,206.3) scale(0.9,1) rotate(0.05)" font-size="7.6" text-anchor="middle" fill="#222" class="sm">0.5</text>
<line x1="146.35" y1="198" x2="146.35" y2="199" stroke="#777" stroke-width="0.7"/>
<line x1="153.9" y1="198" x2="153.9" y2="199.6" stroke="#777" stroke-width="0.7"/>
<text transform="translate(153.9,206.3) scale(0.9,1) rotate(0.05)" font-size="7.6" text-anchor="middle" fill="#222" class="sm">0.6</text>
<line x1="161.45" y1="198" x2="161.45" y2="199" stroke="#777" stroke-width="0.7"/>
<line x1="169" y1="198" x2="169" y2="199.6" stroke="#777" stroke-width="0.7"/>
<text transform="translate(169,206.3) scale(0.9,1) rotate(0.05)" font-size="7.6" text-anchor="middle" fill="#222" class="sm">0.7</text>
<line x1="176.55" y1="198" x2="176.55" y2="199" stroke="#777" stroke-width="0.7"/>
<polyline points="194.5,190.85 195.34,191.04 196.17,191.08 197.01,190.96 197.84,190.68 198.68,190.25 199.52,189.66 200.35,188.94 201.19,188.08 202.02,187.1 202.86,186.01 203.7,184.82 204.53,183.54 205.37,182.19 206.2,180.78 207.04,179.33 207.88,177.84 208.71,176.32 209.55,174.8 210.38,173.27 211.22,171.76 212.06,170.26 212.89,168.78 213.73,167.33 214.56,165.92 215.4,164.54 216.24,163.2 217.07,161.89 217.91,160.63 218.74,159.4 219.58,158.21 220.42,157.04 221.25,155.91 222.09,154.79 222.92,153.7 223.76,152.62 224.6,151.54 225.43,150.48 226.27,149.41 227.1,148.34 227.94,147.26 228.78,146.18 229.61,145.08 230.45,143.98 231.28,142.87 232.12,141.74 232.96,140.62 233.79,139.49 234.63,138.36 235.46,137.25 236.3,136.16 237.14,135.09 237.97,134.05 238.81,133.06 239.64,132.13 240.48,131.26 241.32,130.47 242.15,129.77 242.99,129.16 243.82,128.65 244.66,128.26 245.5,127.99 246.33,127.85 247.17,127.83 248,127.95 248.84,128.2 249.68,128.59 250.51,129.1 251.35,129.74 252.18,130.5 253.02,131.36 253.86,132.33 254.69,133.4 255.53,134.54 256.36,135.75 257.2,137.01 258.04,138.32 258.87,139.66 259.71,141.02 260.54,142.39 261.38,143.75 262.22,145.11 263.05,146.45 263.89,147.76 264.72,149.05 265.56,150.32 266.4,151.55 267.23,152.76 268.07,153.95 268.9,155.12 269.74,156.27 270.58,157.42 271.41,158.56 272.25,159.72 273.08,160.89 273.92,162.07 274.76,163.29 275.59,164.54 276.43,165.82 277.26,167.14 278.1,168.5 278.94,169.89 279.77,171.32 280.61,172.78 281.44,174.26 282.28,175.75 283.12,177.24 283.95,178.73 284.79,180.19 285.62,181.62 286.46,183 287.3,184.31 288.13,185.54 288.97,186.68 289.8,187.71 290.64,188.63 291.48,189.41 292.31,190.05 293.15,190.54 293.98,190.88 294.82,191.06 295.66,191.08 296.49,190.94 297.33,190.64 298.16,190.18 299,189.58 299.84,188.84 300.67,187.96 301.51,186.97 302.34,185.86 303.18,184.66 304.02,183.38 304.85,182.02 305.69,180.6 306.52,179.14 307.36,177.65 308.2,176.13 309.03,174.61 309.87,173.08 310.7,171.57 311.54,170.07 312.38,168.6 313.21,167.15 314.05,165.74 314.88,164.37 315.72,163.03 316.56,161.73 317.39,160.47 318.23,159.25 319.06,158.06 319.9,156.9" fill="none" stroke="#e82a2e" stroke-width="1.1" stroke-dasharray="2.5 1.2" stroke-linejoin="round" />
<polyline points="194.3,190.3 195.14,190.49 195.97,190.53 196.81,190.41 197.64,190.13 198.48,189.7 199.32,189.11 200.15,188.39 200.99,187.53 201.82,186.55 202.66,185.46 203.5,184.27 204.33,182.99 205.17,181.64 206,180.23 206.84,178.78 207.68,177.29 208.51,175.77 209.35,174.25 210.18,172.72 211.02,171.21 211.86,169.71 212.69,168.23 213.53,166.78 214.36,165.37 215.2,163.99 216.04,162.65 216.87,161.34 217.71,160.08 218.54,158.85 219.38,157.66 220.22,156.49 221.05,155.36 221.89,154.24 222.72,153.15 223.56,152.07 224.4,150.99 225.23,149.93 226.07,148.86 226.9,147.79 227.74,146.71 228.58,145.63 229.41,144.53 230.25,143.43 231.08,142.32 231.92,141.19 232.76,140.07 233.59,138.94 234.43,137.81 235.26,136.7 236.1,135.61 236.94,134.54 237.77,133.5 238.61,132.51 239.44,131.58 240.28,130.71 241.12,129.92 241.95,129.22 242.79,128.61 243.62,128.1 244.46,127.71 245.3,127.44 246.13,127.3 246.97,127.28 247.8,127.4 248.64,127.65 249.48,128.04 250.31,128.55 251.15,129.19 251.98,129.95 252.82,130.81 253.66,131.78 254.49,132.85 255.33,133.99 256.16,135.2 257,136.46 257.84,137.77 258.67,139.11 259.51,140.47 260.34,141.84 261.18,143.2 262.02,144.56 262.85,145.9 263.69,147.21 264.52,148.5 265.36,149.77 266.2,151 267.03,152.21 267.87,153.4 268.7,154.57 269.54,155.72 270.38,156.87 271.21,158.01 272.05,159.17 272.88,160.34 273.72,161.52 274.56,162.74 275.39,163.99 276.23,165.27 277.06,166.59 277.9,167.95 278.74,169.34 279.57,170.77 280.41,172.23 281.24,173.71 282.08,175.2 282.92,176.69 283.75,178.18 284.59,179.64 285.42,181.07 286.26,182.45 287.1,183.76 287.93,184.99 288.77,186.13 289.6,187.16 290.44,188.08 291.28,188.86 292.11,189.5 292.95,189.99 293.78,190.33 294.62,190.51 295.46,190.53 296.29,190.39 297.13,190.09 297.96,189.63 298.8,189.03 299.64,188.29 300.47,187.41 301.31,186.42 302.14,185.31 302.98,184.11 303.82,182.83 304.65,181.47 305.49,180.05 306.32,178.59 307.16,177.1 308,175.58 308.83,174.06 309.67,172.53 310.5,171.02 311.34,169.52 312.18,168.05 313.01,166.6 313.85,165.19 314.68,163.82 315.52,162.48 316.36,161.18 317.19,159.92 318.03,158.7 318.86,157.51 319.7,156.35" fill="none" stroke="#444" stroke-width="0.9" stroke-linejoin="round" />
<polyline points="194.1,189.75 194.94,189.94 195.77,189.98 196.61,189.86 197.44,189.58 198.28,189.15 199.12,188.56 199.95,187.84 200.79,186.98 201.62,186 202.46,184.91 203.3,183.72 204.13,182.44 204.97,181.09 205.8,179.68 206.64,178.23 207.48,176.74 208.31,175.22 209.15,173.7 209.98,172.17 210.82,170.66 211.66,169.16 212.49,167.68 213.33,166.23 214.16,164.82 215,163.44 215.84,162.1 216.67,160.79 217.51,159.53 218.34,158.3 219.18,157.11 220.02,155.94 220.85,154.81 221.69,153.69 222.52,152.6 223.36,151.52 224.2,150.44 225.03,149.38 225.87,148.31 226.7,147.24 227.54,146.16 228.38,145.08 229.21,143.98 230.05,142.88 230.88,141.77 231.72,140.64 232.56,139.52 233.39,138.39 234.23,137.26 235.06,136.15 235.9,135.06 236.74,133.99 237.57,132.95 238.41,131.96 239.24,131.03 240.08,130.16 240.92,129.37 241.75,128.67 242.59,128.06 243.42,127.55 244.26,127.16 245.1,126.89 245.93,126.75 246.77,126.73 247.6,126.85 248.44,127.1 249.28,127.49 250.11,128 250.95,128.64 251.78,129.4 252.62,130.26 253.46,131.23 254.29,132.3 255.13,133.44 255.96,134.65 256.8,135.91 257.64,137.22 258.47,138.56 259.31,139.92 260.14,141.29 260.98,142.65 261.82,144.01 262.65,145.35 263.49,146.66 264.32,147.95 265.16,149.22 266,150.45 266.83,151.66 267.67,152.85 268.5,154.02 269.34,155.17 270.18,156.32 271.01,157.46 271.85,158.62 272.68,159.79 273.52,160.97 274.36,162.19 275.19,163.44 276.03,164.72 276.86,166.04 277.7,167.4 278.54,168.79 279.37,170.22 280.21,171.68 281.04,173.16 281.88,174.65 282.72,176.14 283.55,177.63 284.39,179.09 285.22,180.52 286.06,181.9 286.9,183.21 287.73,184.44 288.57,185.58 289.4,186.61 290.24,187.53 291.08,188.31 291.91,188.95 292.75,189.44 293.58,189.78 294.42,189.96 295.26,189.98 296.09,189.84 296.93,189.54 297.76,189.08 298.6,188.48 299.44,187.74 300.27,186.86 301.11,185.87 301.94,184.76 302.78,183.56 303.62,182.28 304.45,180.92 305.29,179.5 306.12,178.04 306.96,176.55 307.8,175.03 308.63,173.51 309.47,171.98 310.3,170.47 311.14,168.97 311.98,167.5 312.81,166.05 313.65,164.64 314.48,163.27 315.32,161.93 316.16,160.63 316.99,159.37 317.83,158.15 318.66,156.96 319.5,155.8" fill="none" stroke="#3d6fe0" stroke-width="1.1" stroke-dasharray="1.2 1.3" stroke-linejoin="round" />
<line x1="194.3" y1="114.4" x2="194.3" y2="197.8" stroke="#777" stroke-width="0.8"/>
<line x1="194.3" y1="197.8" x2="319.7" y2="197.8" stroke="#777" stroke-width="0.8"/>
<line x1="191.6" y1="114.7" x2="194.3" y2="114.7" stroke="#777" stroke-width="0.8"/>
<text transform="translate(191,117.5) scale(0.88,1) rotate(0.05)" font-size="7.6" text-anchor="end" fill="#222" class="sm">150</text>
<line x1="192.6" y1="122.95" x2="194.3" y2="122.95" stroke="#777" stroke-width="0.7"/>
<line x1="191.6" y1="131.2" x2="194.3" y2="131.2" stroke="#777" stroke-width="0.8"/>
<text transform="translate(191,134) scale(0.88,1) rotate(0.05)" font-size="7.6" text-anchor="end" fill="#222" class="sm">100</text>
<line x1="192.6" y1="139.45" x2="194.3" y2="139.45" stroke="#777" stroke-width="0.7"/>
<line x1="191.6" y1="147.7" x2="194.3" y2="147.7" stroke="#777" stroke-width="0.8"/>
<text transform="translate(191,150.5) scale(0.88,1) rotate(0.05)" font-size="7.6" text-anchor="end" fill="#222" class="sm">50</text>
<line x1="192.6" y1="155.95" x2="194.3" y2="155.95" stroke="#777" stroke-width="0.7"/>
<line x1="191.6" y1="164.2" x2="194.3" y2="164.2" stroke="#777" stroke-width="0.8"/>
<text transform="translate(191,167) scale(0.88,1) rotate(0.05)" font-size="7.6" text-anchor="end" fill="#222" class="sm">0</text>
<line x1="192.6" y1="172.45" x2="194.3" y2="172.45" stroke="#777" stroke-width="0.7"/>
<line x1="191.6" y1="180.7" x2="194.3" y2="180.7" stroke="#777" stroke-width="0.8"/>
<text transform="translate(191,183.5) scale(0.88,1) rotate(0.05)" font-size="7.6" text-anchor="end" fill="#222" class="sm">−50</text>
<line x1="192.6" y1="188.95" x2="194.3" y2="188.95" stroke="#777" stroke-width="0.7"/>
<line x1="191.6" y1="197.2" x2="194.3" y2="197.2" stroke="#777" stroke-width="0.8"/>
<text transform="translate(191,200) scale(0.88,1) rotate(0.05)" font-size="7.6" text-anchor="end" fill="#222" class="sm">−100</text>
<line x1="208.1" y1="197.8" x2="208.1" y2="199.4" stroke="#777" stroke-width="0.7"/>
<text transform="translate(208.1,205.8) scale(0.9,1) rotate(0.05)" font-size="7.6" text-anchor="middle" fill="#222" class="sm">7</text>
<line x1="231.82" y1="197.8" x2="231.82" y2="198.9" stroke="#777" stroke-width="0.7"/>
<line x1="255.55" y1="197.8" x2="255.55" y2="199.4" stroke="#777" stroke-width="0.7"/>
<text transform="translate(255.55,205.8) scale(0.9,1) rotate(0.05)" font-size="7.6" text-anchor="middle" fill="#222" class="sm">8</text>
<line x1="279.27" y1="197.8" x2="279.27" y2="198.9" stroke="#777" stroke-width="0.7"/>
<line x1="303" y1="197.8" x2="303" y2="199.4" stroke="#777" stroke-width="0.7"/>
<text transform="translate(303,205.8) scale(0.9,1) rotate(0.05)" font-size="7.6" text-anchor="middle" fill="#222" class="sm">9</text>
<line x1="326.73" y1="197.8" x2="326.73" y2="198.9" stroke="#777" stroke-width="0.7"/>
<polyline points="398.8,86 400.27,86.09 400.33,82.13 400.44,76.04 400.65,68.73 400.89,63.24 401.13,58.98 401.45,54.1 401.73,50.75 401.91,49.78 402.16,50.2 402.48,51.97 402.8,54.41 403.12,56.84 403.44,60.2 403.68,63.06 403.87,64.03 403.92,42.71 403.98,65.25 404.47,65.44 405.27,65.56 406.07,65.53 406.86,65.44 407.66,65.31 408.46,65.19 409.25,65.01 410.05,64.83 410.85,64.64 411.65,64.46 412.44,64.28 413.24,64.1 414.04,63.94 414.83,63.79 415.63,63.64 416.43,63.49 416.99,63.51 417.49,63.38 418,63.26 418.5,63.14 419.01,63.04 419.51,62.94 420.02,62.85 420.52,62.77 421.03,62.7 421.53,62.64 422.04,62.59 422.54,62.54 423.05,62.5 423.55,62.47 424.06,62.44 424.57,62.42 425.07,62.4 425.58,62.38 426.08,62.37 426.59,62.36 427.09,62.35 427.6,62.34 428.1,62.34 428.61,62.34 429.11,62.34 429.62,62.34 430.12,62.35 430.63,62.36 431.13,62.37 431.64,62.39 432.14,62.41 432.65,62.44 433.15,62.48 433.66,62.53 434.16,62.58 434.67,62.64 435.17,62.71 435.68,62.79 436.18,62.87 436.69,62.97 437.2,63.07 437.7,63.18 438.21,63.3 438.71,63.43 439.22,63.56 439.72,63.69 440.23,63.83 440.73,63.97 441.24,64.12 441.74,64.26 442.25,64.41 442.75,64.55 443.26,64.7 443.76,64.83 444.27,64.97 444.77,65.1 445.28,65.22 445.78,65.34 446.29,65.46 446.79,65.56 447.3,65.67 447.8,65.76 448.31,65.85 448.81,65.93 449.32,66 449.83,66.07 450.33,66.14 450.84,66.19 451.34,66.25 451.85,66.29 452.35,66.34 452.86,66.37 453.36,66.4 453.87,66.43 454.37,66.45 454.88,66.46 455.38,66.47 455.89,66.47 456.39,66.47 456.9,66.46 457.4,66.44 457.91,66.41 458.41,66.37 458.92,66.32 459.42,66.26 459.93,66.2 460.43,66.12 460.94,66.03 461.44,65.93 461.95,65.83 462.46,65.71 462.96,65.58 463.47,65.45 463.97,65.31 464.48,65.16 464.98,65.01 465.49,64.85 465.99,64.69 466.5,64.53 467,64.37 467.51,64.21 468.01,64.05 468.52,63.9 469.02,63.75 469.53,63.61 470.03,63.47 470.54,63.34 471.04,63.22 471.55,63.11 472.05,63.01 472.56,62.91 473.06,62.83 473.57,62.75 474.07,62.69 474.58,62.63 475.09,62.57 475.59,62.53 476.1,62.49 476.6,62.46 477.11,62.43 477.61,62.41 478.12,62.39 478.62,62.38 479.13,62.36 479.63,62.35 480.14,62.35 480.64,62.34 481.15,62.34 481.65,62.34 482.16,62.34 482.66,62.34 483.17,62.35 483.67,62.36 484.18,62.37 484.68,62.39 485.19,62.42 485.69,62.45 486.2,62.49 486.7,62.54 487.21,62.59 487.72,62.66 488.22,62.73 488.73,62.81 489.23,62.9 489.74,63 490.24,63.1 490.75,63.21 491.25,63.33 491.76,63.46 492.26,63.59 492.77,63.73 493.27,63.87 493.78,64.01 494.28,64.16 494.79,64.31 495.29,64.45 495.8,64.59 496.3,64.73 496.81,64.87 497.31,65.01 497.82,65.14 498.32,65.26 498.83,65.38 499.33,65.49 499.84,65.59 500.35,65.69 500.85,65.79 501.36,65.87 501.86,65.95 502.37,66.02 502.87,66.09 503.38,66.15 503.88,66.21 504.39,66.26 504.89,66.31 505.4,66.35 505.9,66.38 506.41,66.41 506.91,66.44 507.42,66.45 507.92,66.47 508.43,66.47 508.93,66.47 509.44,66.47 509.94,66.45 510.45,66.43 510.95,66.4 511.46,66.36 511.96,66.3 512.47,66.24 512.98,66.17 513.48,66.09 513.99,66 514.49,65.9 515,65.79 515.5,65.67 516.01,65.55 516.51,65.41 517.02,65.27 517.52,65.12 518.03,64.97 518.53,64.81 519.04,64.65 519.54,64.49 520.05,64.33 520.55,64.17 521.06,64.01 521.56,63.86 522.07,63.71 522.57,63.57 523.08,63.43 523.58,63.31 524.09,63.19 524.59,63.08 525.1,62.98 525.61,62.89 526.11,62.81 526.62,62.73 527.12,62.67 527.63,62.61 528.13,62.56 528.64,62.52 529.14,62.48 529.65,62.45 530.15,62.43 530.66,62.41 531.16,62.39 531.67,62.37 532.17,62.36 532.68,62.35 533.18,62.34 533.69,62.34 534.19,62.34 534.7,62.34 535.2,62.34 535.71,62.34 536.21,62.35 536.72,62.36 537.22,62.38 537.73,62.4 538.24,62.43 538.74,62.46 539.25,62.51 539.75,62.55 540.26,62.61 540.76,62.68 541.27,62.75 541.77,62.83 542.28,62.93 542.78,63.02 543.29,63.13 543.79,63.25 544.3,63.37 544.8,63.5 545.31,63.63 545.81,63.77 546.32,63.91 546.82,64.06 547.33,64.2 547.83,64.35 548.34,64.49 548.84,64.63 549.35,64.77 549.85,64.91 550.36,65.04 550.87,65.17 551.37,65.29 551.88,65.41 552.38,65.52 552.89,65.62 553.39,65.72 553.9,65.81 554.4,65.89 554.91,65.97 555.41,66.04 555.92,66.11 556.42,66.17 556.93,66.22 557.43,66.27 557.94,66.32 558.44,66.36 558.95,66.39 559.45,66.42 559.96,66.44 560.46,66.46 560.97,66.47 561.47,66.47 561.98,66.47 562.48,66.46 562.99,66.45 563.5,66.42 564,66.39 564.51,66.34 565.01,66.29 565.52,66.23 566.02,66.15 566.53,66.07 567.03,65.98 567.54,65.87 568.04,65.76 568.55,65.64 569.05,65.51 569.56,65.37 570.06,65.23 570.57,65.08 571.07,64.92 571.58,64.76 572.08,64.6 572.59,64.44 573.09,64.28 573.6,64.12 574.1,63.97 574.61,63.82 575.11,63.67 575.62,63.53 576.13,63.4 576.63,63.27 577.14,63.16 577.64,63.05 578.15,62.95 578.65,62.86 579.16,62.78 579.66,62.71 580.17,62.65 580.67,62.6 581.18,62.55 581.68,62.51 582.19,62.47 582.69,62.45 583.2,62.42 583.7,62.4 584.21,62.38 584.71,62.37 585.22,62.36 585.72,62.35 586.23,62.34 586.73,62.34 587.24,62.34 587.74,62.34 588.25,62.34 588.76,62.34 589.26,62.35 589.77,62.37 590.27,62.38 590.78,62.41 591.28,62.44 591.79,62.47 592.29,62.52 592.8,62.57 593.3,62.63 593.81,62.7 594.31,62.77 594.82,62.86 595.32,62.95 595.83,63.05 596.33,63.16 596.84,63.28 597.34,63.41 597.85,63.53 598.35,63.67 598.86,63.81 599.36,63.95 599.87,64.1 600.37,64.24 600.88,64.39 601.39,64.53 601.89,64.67 602.4,64.81 602.9,64.95 603.41,65.08 603.91,65.2 604.42,65.33 604.92,65.44 605.43,65.55 605.93,65.65 606.44,65.75 606.94,65.83 607.45,65.92 607.95,65.99 608.46,66.06 608.96,66.13 609.47,66.19 609.97,66.24 610.48,66.29 610.98,66.33 611.49,66.37 611.99,66.4 612.5,66.43 613,66.45 613.51,66.46 614.02,66.47 614.52,66.47 615.03,66.47 615.53,66.46 616.04,66.44 616.54,66.41 617.05,66.37 617.55,66.33 618.06,66.27 618.56,66.21 619.07,66.13 619.57,66.05 620.08,65.95 620.58,65.84 621.09,65.73 621.59,65.6 622.1,65.47 622.6,65.33 623.11,65.19 623.61,65.03 624.12,64.88 624.62,64.72 625.13,64.56 625.63,64.4 626.14,64.24 626.65,64.08 627.15,63.92 627.66,63.77 628.16,63.63 628.67,63.49 629.17,63.36 629.68,63.24 630.18,63.13 630.69,63.02 631.19,62.93 631.7,62.84 632.2,62.76 632.71,62.7 633.21,62.64 633.72,62.58 634.22,62.54 634.73,62.5 635.23,62.47 635.74,62.44 636.24,62.41 636.75,62.4 637.25,62.38 637.76,62.37 638.26,62.36 638.77,62.35 639.28,62.34 639.78,62.34 640.29,62.34 640.79,62.34 641.3,62.34 641.8,62.35 642.31,62.36 642.81,62.37 643.32,62.39 643.82,62.42 644.33,62.45 644.83,62.49 645.34,62.53 645.84,62.59 646.35,62.65 646.85,62.72 647.36,62.8 647.86,62.88 648.37,62.98 648.87,63.08 649.38,63.2 649.88,63.32 650.39,63.44 650.89,63.57 651.4,63.71" fill="none" stroke="#555" stroke-width="0.8" stroke-linejoin="round" />
<polyline points="399.81,198.32 399.81,90.32 399.42,88.22 399.53,80.91 399.61,68.12 399.74,60.2 399.88,52.88 400.09,46.79 400.33,42.83 400.54,41.25 400.73,42.22 401.13,45.27 401.76,49.17 402.39,55.81 403.02,61.9 403.66,64.89 404.14,66.11 404.79,66.59 405.59,66.78 406.39,66.41 407.18,65.86 407.98,65.37 408.46,65.19 409.25,65.01 410.05,64.83 410.85,64.64 411.65,64.46 412.44,64.28 413.24,64.1 414.04,63.94 414.83,63.79 415.63,63.64 416.43,63.49 416.99,63.51 417.49,63.38 418,63.26 418.5,63.14 419.01,63.04 419.51,62.94 420.02,62.85 420.52,62.77 421.03,62.7 421.53,62.64 422.04,62.59 422.54,62.54 423.05,62.5 423.55,62.47 424.06,62.44 424.57,62.42 425.07,62.4 425.58,62.38 426.08,62.37 426.59,62.36 427.09,62.35 427.6,62.34 428.1,62.34 428.61,62.34 429.11,62.34 429.62,62.34 430.12,62.35 430.63,62.36 431.13,62.37 431.64,62.39 432.14,62.41 432.65,62.44 433.15,62.48 433.66,62.53 434.16,62.58 434.67,62.64 435.17,62.71 435.68,62.79 436.18,62.87 436.69,62.97 437.2,63.07 437.7,63.18 438.21,63.3 438.71,63.43 439.22,63.56 439.72,63.69 440.23,63.83 440.73,63.97 441.24,64.12 441.74,64.26 442.25,64.41 442.75,64.55 443.26,64.7 443.76,64.83 444.27,64.97 444.77,65.1 445.28,65.22 445.78,65.34 446.29,65.46 446.79,65.56 447.3,65.67 447.8,65.76 448.31,65.85 448.81,65.93 449.32,66 449.83,66.07 450.33,66.14 450.84,66.19 451.34,66.25 451.85,66.29 452.35,66.34 452.86,66.37 453.36,66.4 453.87,66.43 454.37,66.45 454.88,66.46 455.38,66.47 455.89,66.47 456.39,66.47 456.9,66.46 457.4,66.44 457.91,66.41 458.41,66.37 458.92,66.32 459.42,66.26 459.93,66.2 460.43,66.12 460.94,66.03 461.44,65.93 461.95,65.83 462.46,65.71 462.96,65.58 463.47,65.45 463.97,65.31 464.48,65.16 464.98,65.01 465.49,64.85 465.99,64.69 466.5,64.53 467,64.37 467.51,64.21 468.01,64.05 468.52,63.9 469.02,63.75 469.53,63.61 470.03,63.47 470.54,63.34 471.04,63.22 471.55,63.11 472.05,63.01 472.56,62.91 473.06,62.83 473.57,62.75 474.07,62.69 474.58,62.63 475.09,62.57 475.59,62.53 476.1,62.49 476.6,62.46 477.11,62.43 477.61,62.41 478.12,62.39 478.62,62.38 479.13,62.36 479.63,62.35 480.14,62.35 480.64,62.34 481.15,62.34 481.65,62.34 482.16,62.34 482.66,62.34 483.17,62.35 483.67,62.36 484.18,62.37 484.68,62.39 485.19,62.42 485.69,62.45 486.2,62.49 486.7,62.54 487.21,62.59 487.72,62.66 488.22,62.73 488.73,62.81 489.23,62.9 489.74,63 490.24,63.1 490.75,63.21 491.25,63.33 491.76,63.46 492.26,63.59 492.77,63.73 493.27,63.87 493.78,64.01 494.28,64.16 494.79,64.31 495.29,64.45 495.8,64.59 496.3,64.73 496.81,64.87 497.31,65.01 497.82,65.14 498.32,65.26 498.83,65.38 499.33,65.49 499.84,65.59 500.35,65.69 500.85,65.79 501.36,65.87 501.86,65.95 502.37,66.02 502.87,66.09 503.38,66.15 503.88,66.21 504.39,66.26 504.89,66.31 505.4,66.35 505.9,66.38 506.41,66.41 506.91,66.44 507.42,66.45 507.92,66.47 508.43,66.47 508.93,66.47 509.44,66.47 509.94,66.45 510.45,66.43 510.95,66.4 511.46,66.36 511.96,66.3 512.47,66.24 512.98,66.17 513.48,66.09 513.99,66 514.49,65.9 515,65.79 515.5,65.67 516.01,65.55 516.51,65.41 517.02,65.27 517.52,65.12 518.03,64.97 518.53,64.81 519.04,64.65 519.54,64.49 520.05,64.33 520.55,64.17 521.06,64.01 521.56,63.86 522.07,63.71 522.57,63.57 523.08,63.43 523.58,63.31 524.09,63.19 524.59,63.08 525.1,62.98 525.61,62.89 526.11,62.81 526.62,62.73 527.12,62.67 527.63,62.61 528.13,62.56 528.64,62.52 529.14,62.48 529.65,62.45 530.15,62.43 530.66,62.41 531.16,62.39 531.67,62.37 532.17,62.36 532.68,62.35 533.18,62.34 533.69,62.34 534.19,62.34 534.7,62.34 535.2,62.34 535.71,62.34 536.21,62.35 536.72,62.36 537.22,62.38 537.73,62.4 538.24,62.43 538.74,62.46 539.25,62.51 539.75,62.55 540.26,62.61 540.76,62.68 541.27,62.75 541.77,62.83 542.28,62.93 542.78,63.02 543.29,63.13 543.79,63.25 544.3,63.37 544.8,63.5 545.31,63.63 545.81,63.77 546.32,63.91 546.82,64.06 547.33,64.2 547.83,64.35 548.34,64.49 548.84,64.63 549.35,64.77 549.85,64.91 550.36,65.04 550.87,65.17 551.37,65.29 551.88,65.41 552.38,65.52 552.89,65.62 553.39,65.72 553.9,65.81 554.4,65.89 554.91,65.97 555.41,66.04 555.92,66.11 556.42,66.17 556.93,66.22 557.43,66.27 557.94,66.32 558.44,66.36 558.95,66.39 559.45,66.42 559.96,66.44 560.46,66.46 560.97,66.47 561.47,66.47 561.98,66.47 562.48,66.46 562.99,66.45 563.5,66.42 564,66.39 564.51,66.34 565.01,66.29 565.52,66.23 566.02,66.15 566.53,66.07 567.03,65.98 567.54,65.87 568.04,65.76 568.55,65.64 569.05,65.51 569.56,65.37 570.06,65.23 570.57,65.08 571.07,64.92 571.58,64.76 572.08,64.6 572.59,64.44 573.09,64.28 573.6,64.12 574.1,63.97 574.61,63.82 575.11,63.67 575.62,63.53 576.13,63.4 576.63,63.27 577.14,63.16 577.64,63.05 578.15,62.95 578.65,62.86 579.16,62.78 579.66,62.71 580.17,62.65 580.67,62.6 581.18,62.55 581.68,62.51 582.19,62.47 582.69,62.45 583.2,62.42 583.7,62.4 584.21,62.38 584.71,62.37 585.22,62.36 585.72,62.35 586.23,62.34 586.73,62.34 587.24,62.34 587.74,62.34 588.25,62.34 588.76,62.34 589.26,62.35 589.77,62.37 590.27,62.38 590.78,62.41 591.28,62.44 591.79,62.47 592.29,62.52 592.8,62.57 593.3,62.63 593.81,62.7 594.31,62.77 594.82,62.86 595.32,62.95 595.83,63.05 596.33,63.16 596.84,63.28 597.34,63.41 597.85,63.53 598.35,63.67 598.86,63.81 599.36,63.95 599.87,64.1 600.37,64.24 600.88,64.39 601.39,64.53 601.89,64.67 602.4,64.81 602.9,64.95 603.41,65.08 603.91,65.2 604.42,65.33 604.92,65.44 605.43,65.55 605.93,65.65 606.44,65.75 606.94,65.83 607.45,65.92 607.95,65.99 608.46,66.06 608.96,66.13 609.47,66.19 609.97,66.24 610.48,66.29 610.98,66.33 611.49,66.37 611.99,66.4 612.5,66.43 613,66.45 613.51,66.46 614.02,66.47 614.52,66.47 615.03,66.47 615.53,66.46 616.04,66.44 616.54,66.41 617.05,66.37 617.55,66.33 618.06,66.27 618.56,66.21 619.07,66.13 619.57,66.05 620.08,65.95 620.58,65.84 621.09,65.73 621.59,65.6 622.1,65.47 622.6,65.33 623.11,65.19 623.61,65.03 624.12,64.88 624.62,64.72 625.13,64.56 625.63,64.4 626.14,64.24 626.65,64.08 627.15,63.92 627.66,63.77 628.16,63.63 628.67,63.49 629.17,63.36 629.68,63.24 630.18,63.13 630.69,63.02 631.19,62.93 631.7,62.84 632.2,62.76 632.71,62.7 633.21,62.64 633.72,62.58 634.22,62.54 634.73,62.5 635.23,62.47 635.74,62.44 636.24,62.41 636.75,62.4 637.25,62.38 637.76,62.37 638.26,62.36 638.77,62.35 639.28,62.34 639.78,62.34 640.29,62.34 640.79,62.34 641.3,62.34 641.8,62.35 642.31,62.36 642.81,62.37 643.32,62.39 643.82,62.42 644.33,62.45 644.83,62.49 645.34,62.53 645.84,62.59 646.35,62.65 646.85,62.72 647.36,62.8 647.86,62.88 648.37,62.98 648.87,63.08 649.38,63.2 649.88,63.32 650.39,63.44 650.89,63.57 651.4,63.71" fill="none" stroke="#e8505a" stroke-width="1.0" stroke-dasharray="4 3.5" stroke-linejoin="round" />
<polyline points="398.8,98.96 399.15,87.61 399.37,81.52 399.61,74.82 399.82,69.34 399.96,66.29 400.06,64.03 400.17,61.41 400.25,59.28 400.35,57.15 400.49,57.51 400.73,58.55 401.13,60.07 401.65,61.72 402.39,62.94 403.34,64.28 404,64.83 405.27,65.21 406.07,65.18 406.86,65.09 407.66,64.97 408.46,64.85 409.25,64.66 410.05,64.48 410.85,64.3 411.65,64.12 412.44,63.93 413.24,63.75 414.04,63.6 414.83,63.45 415.63,63.29 416.43,63.14 416.99,63.16 417.49,63.03 418,62.91 418.5,62.8 419.01,62.69 419.51,62.59 420.02,62.51 420.52,62.43 421.03,62.36 421.53,62.3 422.04,62.24 422.54,62.2 423.05,62.16 423.55,62.12 424.06,62.1 424.57,62.07 425.07,62.05 425.58,62.04 426.08,62.02 426.59,62.01 427.09,62 427.6,62 428.1,61.99 428.61,61.99 429.11,61.99 429.62,61.99 430.12,62 430.63,62.01 431.13,62.02 431.64,62.04 432.14,62.07 432.65,62.1 433.15,62.14 433.66,62.18 434.16,62.23 434.67,62.29 435.17,62.36 435.68,62.44 436.18,62.53 436.69,62.62 437.2,62.73 437.7,62.84 438.21,62.95 438.71,63.08 439.22,63.21 439.72,63.35 440.23,63.49 440.73,63.63 441.24,63.77 441.74,63.92 442.25,64.06 442.75,64.21 443.26,64.35 443.76,64.49 444.27,64.62 444.77,64.75 445.28,64.88 445.78,65 446.29,65.11 446.79,65.22 447.3,65.32 447.8,65.41 448.31,65.5 448.81,65.58 449.32,65.66 449.83,65.73 450.33,65.79 450.84,65.85 451.34,65.9 451.85,65.95 452.35,65.99 452.86,66.03 453.36,66.06 453.87,66.08 454.37,66.1 454.88,66.12 455.38,66.13 455.89,66.13 456.39,66.12 456.9,66.11 457.4,66.09 457.91,66.06 458.41,66.02 458.92,65.97 459.42,65.92 459.93,65.85 460.43,65.77 460.94,65.68 461.44,65.59 461.95,65.48 462.46,65.36 462.96,65.24 463.47,65.1 463.97,64.96 464.48,64.82 464.98,64.66 465.49,64.51 465.99,64.35 466.5,64.19 467,64.03 467.51,63.87 468.01,63.71 468.52,63.55 469.02,63.41 469.53,63.26 470.03,63.13 470.54,63 471.04,62.88 471.55,62.76 472.05,62.66 472.56,62.57 473.06,62.48 473.57,62.41 474.07,62.34 474.58,62.28 475.09,62.23 475.59,62.19 476.1,62.15 476.6,62.12 477.11,62.09 477.61,62.07 478.12,62.05 478.62,62.03 479.13,62.02 479.63,62.01 480.14,62 480.64,61.99 481.15,61.99 481.65,61.99 482.16,61.99 482.66,61.99 483.17,62 483.67,62.01 484.18,62.03 484.68,62.05 485.19,62.08 485.69,62.11 486.2,62.15 486.7,62.19 487.21,62.25 487.72,62.31 488.22,62.38 488.73,62.46 489.23,62.55 489.74,62.65 490.24,62.76 490.75,62.87 491.25,62.99 491.76,63.12 492.26,63.25 492.77,63.39 493.27,63.53 493.78,63.67 494.28,63.81 494.79,63.96 495.29,64.1 495.8,64.25 496.3,64.39 496.81,64.53 497.31,64.66 497.82,64.79 498.32,64.91 498.83,65.03 499.33,65.14 499.84,65.25 500.35,65.35 500.85,65.44 501.36,65.53 501.86,65.61 502.37,65.68 502.87,65.75 503.38,65.81 503.88,65.86 504.39,65.91 504.89,65.96 505.4,66 505.9,66.04 506.41,66.07 506.91,66.09 507.42,66.11 507.92,66.12 508.43,66.13 508.93,66.13 509.44,66.12 509.94,66.11 510.45,66.08 510.95,66.05 511.46,66.01 511.96,65.96 512.47,65.9 512.98,65.83 513.48,65.75 513.99,65.66 514.49,65.56 515,65.45 515.5,65.33 516.01,65.2 516.51,65.07 517.02,64.92 517.52,64.77 518.03,64.62 518.53,64.46 519.04,64.3 519.54,64.14 520.05,63.98 520.55,63.82 521.06,63.67 521.56,63.51 522.07,63.36 522.57,63.22 523.08,63.09 523.58,62.96 524.09,62.84 524.59,62.73 525.1,62.63 525.61,62.54 526.11,62.46 526.62,62.39 527.12,62.32 527.63,62.27 528.13,62.22 528.64,62.17 529.14,62.14 529.65,62.11 530.15,62.08 530.66,62.06 531.16,62.04 531.67,62.03 532.17,62.02 532.68,62.01 533.18,62 533.69,61.99 534.19,61.99 534.7,61.99 535.2,61.99 535.71,62 536.21,62 536.72,62.02 537.22,62.03 537.73,62.06 538.24,62.08 538.74,62.12 539.25,62.16 539.75,62.21 540.26,62.27 540.76,62.33 541.27,62.41 541.77,62.49 542.28,62.58 542.78,62.68 543.29,62.79 543.79,62.9 544.3,63.02 544.8,63.15 545.31,63.29 545.81,63.42 546.32,63.57 546.82,63.71 547.33,63.85 547.83,64 548.34,64.14 548.84,64.29 549.35,64.43 549.85,64.56 550.36,64.7 550.87,64.82 551.37,64.95 551.88,65.06 552.38,65.17 552.89,65.28 553.39,65.37 553.9,65.46 554.4,65.55 554.91,65.63 555.41,65.7 555.92,65.76 556.42,65.82 556.93,65.88 557.43,65.93 557.94,65.97 558.44,66.01 558.95,66.04 559.45,66.07 559.96,66.1 560.46,66.11 560.97,66.12 561.47,66.13 561.98,66.13 562.48,66.12 562.99,66.1 563.5,66.07 564,66.04 564.51,66 565.01,65.94 565.52,65.88 566.02,65.81 566.53,65.72 567.03,65.63 567.54,65.53 568.04,65.42 568.55,65.29 569.05,65.16 569.56,65.03 570.06,64.88 570.57,64.73 571.07,64.58 571.58,64.42 572.08,64.26 572.59,64.1 573.09,63.94 573.6,63.78 574.1,63.62 574.61,63.47 575.11,63.32 575.62,63.19 576.13,63.05 576.63,62.93 577.14,62.81 577.64,62.71 578.15,62.61 578.65,62.52 579.16,62.44 579.66,62.37 580.17,62.31 580.67,62.25 581.18,62.2 581.68,62.16 582.19,62.13 582.69,62.1 583.2,62.08 583.7,62.05 584.21,62.04 584.71,62.02 585.22,62.01 585.72,62 586.23,62 586.73,61.99 587.24,61.99 587.74,61.99 588.25,61.99 588.76,62 589.26,62.01 589.77,62.02 590.27,62.04 590.78,62.06 591.28,62.09 591.79,62.13 592.29,62.17 592.8,62.22 593.3,62.28 593.81,62.35 594.31,62.43 594.82,62.51 595.32,62.61 595.83,62.71 596.33,62.82 596.84,62.94 597.34,63.06 597.85,63.19 598.35,63.32 598.86,63.46 599.36,63.61 599.87,63.75 600.37,63.9 600.88,64.04 601.39,64.19 601.89,64.33 602.4,64.47 602.9,64.6 603.41,64.73 603.91,64.86 604.42,64.98 604.92,65.09 605.43,65.2 605.93,65.3 606.44,65.4 606.94,65.49 607.45,65.57 607.95,65.65 608.46,65.72 608.96,65.78 609.47,65.84 609.97,65.89 610.48,65.94 610.98,65.98 611.49,66.02 611.99,66.05 612.5,66.08 613,66.1 613.51,66.12 614.02,66.13 614.52,66.13 615.03,66.12 615.53,66.11 616.04,66.09 616.54,66.07 617.05,66.03 617.55,65.98 618.06,65.93 618.56,65.86 619.07,65.79 619.57,65.7 620.08,65.6 620.58,65.5 621.09,65.38 621.59,65.26 622.1,65.13 622.6,64.99 623.11,64.84 623.61,64.69 624.12,64.53 624.62,64.37 625.13,64.21 625.63,64.05 626.14,63.89 626.65,63.73 627.15,63.58 627.66,63.43 628.16,63.28 628.67,63.15 629.17,63.02 629.68,62.9 630.18,62.78 630.69,62.68 631.19,62.58 631.7,62.5 632.2,62.42 632.71,62.35 633.21,62.29 633.72,62.24 634.22,62.19 634.73,62.15 635.23,62.12 635.74,62.09 636.24,62.07 636.75,62.05 637.25,62.03 637.76,62.02 638.26,62.01 638.77,62 639.28,62 639.78,61.99 640.29,61.99 640.79,61.99 641.3,61.99 641.8,62 642.31,62.01 642.81,62.03 643.32,62.05 643.82,62.07 644.33,62.1 644.83,62.14 645.34,62.19 645.84,62.24 646.35,62.3 646.85,62.37 647.36,62.45 647.86,62.54 648.37,62.63 648.87,62.74 649.38,62.85 649.88,62.97 650.39,63.1 650.89,63.23 651.4,63.36" fill="none" stroke="#4470dc" stroke-width="1.05" stroke-dasharray="2.6 1" stroke-linejoin="round" />
<line x1="398.8" y1="21.2" x2="398.8" y2="220.2" stroke="#111" stroke-width="1.1"/>
<line x1="398.3" y1="216.5" x2="651.9" y2="216.5" stroke="#111" stroke-width="1.1"/>
<line x1="395.1" y1="21.2" x2="398.8" y2="21.2" stroke="#111" stroke-width="1"/>
<text transform="translate(391.7,24.9) scale(0.92,1) rotate(0.05)" font-size="9.7" text-anchor="end" fill="#222" >1000</text>
<line x1="396.9" y1="32" x2="398.8" y2="32" stroke="#111" stroke-width="1"/>
<line x1="395.1" y1="42.8" x2="398.8" y2="42.8" stroke="#111" stroke-width="1"/>
<text transform="translate(391.7,46.5) scale(0.92,1) rotate(0.05)" font-size="9.7" text-anchor="end" fill="#222" >500</text>
<line x1="396.9" y1="53.6" x2="398.8" y2="53.6" stroke="#111" stroke-width="1"/>
<line x1="395.1" y1="64.4" x2="398.8" y2="64.4" stroke="#111" stroke-width="1"/>
<text transform="translate(391.7,68.1) scale(0.92,1) rotate(0.05)" font-size="9.7" text-anchor="end" fill="#222" >0</text>
<line x1="396.9" y1="75.2" x2="398.8" y2="75.2" stroke="#111" stroke-width="1"/>
<line x1="395.1" y1="86" x2="398.8" y2="86" stroke="#111" stroke-width="1"/>
<text transform="translate(391.7,89.7) scale(0.92,1) rotate(0.05)" font-size="9.7" text-anchor="end" fill="#222" >−500</text>
<line x1="396.9" y1="96.8" x2="398.8" y2="96.8" stroke="#111" stroke-width="1"/>
<line x1="395.1" y1="107.6" x2="398.8" y2="107.6" stroke="#111" stroke-width="1"/>
<text transform="translate(391.7,111.3) scale(0.92,1) rotate(0.05)" font-size="9.7" text-anchor="end" fill="#222" >−1000</text>
<line x1="396.9" y1="118.4" x2="398.8" y2="118.4" stroke="#111" stroke-width="1"/>
<line x1="395.1" y1="129.2" x2="398.8" y2="129.2" stroke="#111" stroke-width="1"/>
<text transform="translate(391.7,132.9) scale(0.92,1) rotate(0.05)" font-size="9.7" text-anchor="end" fill="#222" >−1500</text>
<line x1="396.9" y1="140" x2="398.8" y2="140" stroke="#111" stroke-width="1"/>
<line x1="395.1" y1="150.8" x2="398.8" y2="150.8" stroke="#111" stroke-width="1"/>
<text transform="translate(391.7,154.5) scale(0.92,1) rotate(0.05)" font-size="9.7" text-anchor="end" fill="#222" >−2000</text>
<line x1="396.9" y1="161.6" x2="398.8" y2="161.6" stroke="#111" stroke-width="1"/>
<line x1="395.1" y1="172.4" x2="398.8" y2="172.4" stroke="#111" stroke-width="1"/>
<text transform="translate(391.7,176.1) scale(0.92,1) rotate(0.05)" font-size="9.7" text-anchor="end" fill="#222" >−2500</text>
<line x1="396.9" y1="183.2" x2="398.8" y2="183.2" stroke="#111" stroke-width="1"/>
<line x1="395.1" y1="194" x2="398.8" y2="194" stroke="#111" stroke-width="1"/>
<text transform="translate(391.7,197.7) scale(0.92,1) rotate(0.05)" font-size="9.7" text-anchor="end" fill="#222" >−3000</text>
<line x1="396.9" y1="204.8" x2="398.8" y2="204.8" stroke="#111" stroke-width="1"/>
<line x1="395.1" y1="215.6" x2="398.8" y2="215.6" stroke="#111" stroke-width="1"/>
<text transform="translate(391.7,219.3) scale(0.92,1) rotate(0.05)" font-size="9.7" text-anchor="end" fill="#222" >−3500</text>
<line x1="398.8" y1="216.5" x2="398.8" y2="220.2" stroke="#111" stroke-width="1"/>
<text transform="translate(398.8,229.9) rotate(0.05)" font-size="9" text-anchor="middle" fill="#222" >0</text>
<line x1="411.43" y1="216.5" x2="411.43" y2="218.6" stroke="#111" stroke-width="1"/>
<line x1="424.06" y1="216.5" x2="424.06" y2="220.2" stroke="#111" stroke-width="1"/>
<text transform="translate(424.06,229.9) rotate(0.05)" font-size="9" text-anchor="middle" fill="#222" >1</text>
<line x1="436.69" y1="216.5" x2="436.69" y2="218.6" stroke="#111" stroke-width="1"/>
<line x1="449.32" y1="216.5" x2="449.32" y2="220.2" stroke="#111" stroke-width="1"/>
<text transform="translate(449.32,229.9) rotate(0.05)" font-size="9" text-anchor="middle" fill="#222" >2</text>
<line x1="461.95" y1="216.5" x2="461.95" y2="218.6" stroke="#111" stroke-width="1"/>
<line x1="474.58" y1="216.5" x2="474.58" y2="220.2" stroke="#111" stroke-width="1"/>
<text transform="translate(474.58,229.9) rotate(0.05)" font-size="9" text-anchor="middle" fill="#222" >3</text>
<line x1="487.21" y1="216.5" x2="487.21" y2="218.6" stroke="#111" stroke-width="1"/>
<line x1="499.84" y1="216.5" x2="499.84" y2="220.2" stroke="#111" stroke-width="1"/>
<text transform="translate(499.84,229.9) rotate(0.05)" font-size="9" text-anchor="middle" fill="#222" >4</text>
<line x1="512.47" y1="216.5" x2="512.47" y2="218.6" stroke="#111" stroke-width="1"/>
<line x1="525.1" y1="216.5" x2="525.1" y2="220.2" stroke="#111" stroke-width="1"/>
<text transform="translate(525.1,229.9) rotate(0.05)" font-size="9" text-anchor="middle" fill="#222" >5</text>
<line x1="537.73" y1="216.5" x2="537.73" y2="218.6" stroke="#111" stroke-width="1"/>
<line x1="550.36" y1="216.5" x2="550.36" y2="220.2" stroke="#111" stroke-width="1"/>
<text transform="translate(550.36,229.9) rotate(0.05)" font-size="9" text-anchor="middle" fill="#222" >6</text>
<line x1="562.99" y1="216.5" x2="562.99" y2="218.6" stroke="#111" stroke-width="1"/>
<line x1="575.62" y1="216.5" x2="575.62" y2="220.2" stroke="#111" stroke-width="1"/>
<text transform="translate(575.62,229.9) rotate(0.05)" font-size="9" text-anchor="middle" fill="#222" >7</text>
<line x1="588.25" y1="216.5" x2="588.25" y2="218.6" stroke="#111" stroke-width="1"/>
<line x1="600.88" y1="216.5" x2="600.88" y2="220.2" stroke="#111" stroke-width="1"/>
<text transform="translate(600.88,229.9) rotate(0.05)" font-size="9" text-anchor="middle" fill="#222" >8</text>
<line x1="613.51" y1="216.5" x2="613.51" y2="218.6" stroke="#111" stroke-width="1"/>
<line x1="626.14" y1="216.5" x2="626.14" y2="220.2" stroke="#111" stroke-width="1"/>
<text transform="translate(626.14,229.9) rotate(0.05)" font-size="9" text-anchor="middle" fill="#222" >9</text>
<line x1="638.77" y1="216.5" x2="638.77" y2="218.6" stroke="#111" stroke-width="1"/>
<line x1="651.4" y1="216.5" x2="651.4" y2="220.2" stroke="#111" stroke-width="1"/>
<text transform="translate(651.4,229.9) rotate(0.05)" font-size="9" text-anchor="middle" fill="#222" >10</text>
<text transform="translate(525.2,247.5) rotate(0.05)" font-size="11.7" text-anchor="middle" fill="#222" >Time(s)</text>
<text transform="translate(363.8,118.6) rotate(-89.95)" font-size="11.25" text-anchor="middle" fill="#222">Joint 2(N·m)</text>
<rect x="398.8" y="37.2" width="25.9" height="57.8" fill="none" stroke="#666" stroke-width="1"/>
<rect x="565.5" y="56" width="50.2" height="15.5" fill="none" stroke="#666" stroke-width="1"/>
<line x1="419.4" y1="95" x2="419.4" y2="112.5" stroke="#555" stroke-width="0.9"/>
<polygon points="419.4,118 417.8,111.5 421,111.5" fill="#333"/>
<line x1="592.5" y1="71.5" x2="592.5" y2="98.5" stroke="#555" stroke-width="0.9"/>
<polygon points="592.5,103.8 590.8,97.8 594.2,97.8" fill="#333"/>
<g clip-path="url(#cB1)">
<polyline points="425.74,378.69 425.74,201.44 423.3,198 424,186 424.5,165 425.3,152 426.2,140 427.5,130 429,123.5 430.3,120.9 431.5,122.5 434,127.5 438,133.9 441.9,144.8 445.9,154.8 449.9,159.7 452.9,161.7 457,162.5 462,162.8 467,162.2 472,161.3 477,160.5 480,160.2 485,159.9 490,159.6 495,159.3 500,159 505,158.7 510,158.4 515,158.15 520,157.9 525,157.65 530,157.4 533.52,157.44" fill="none" stroke="#e82a2e" stroke-width="1.6" stroke-dasharray="5 3.5" stroke-linejoin="round" />
<polyline points="419.4,194.35 428.6,194.5 429,188 429.7,178 431,166 432.5,157 434,150 436,142 437.8,136.5 438.9,134.9 440.5,135.6 442.5,138.5 444.5,142.5 446.5,146.5 448.5,152 450,156.7 451.2,158.3 451.5,123.3 451.9,160.3 455,160.6 460,160.8 465,160.75 470,160.6 475,160.4 480,160.2 485,159.9 490,159.6 495,159.3 500,159 505,158.7 510,158.4 515,158.15 520,157.9 525,157.65 530,157.4 533.52,157.44" fill="none" stroke="#333" stroke-width="1.6" stroke-linejoin="round" />
<polyline points="419.4,215.62 421.6,197 423,187 424.5,176 425.8,167 426.7,162 427.3,158.3 428,154 428.5,150.5 429.1,147 430,147.6 431.5,149.3 434,151.8 437.3,154.5 441.9,156.5 447.9,158.7 452,159.6 460,160.23 465,160.18 470,160.03 475,159.83 480,159.63 485,159.33 490,159.03 495,158.73 500,158.43 505,158.13 510,157.83 515,157.58 520,157.33 525,157.08 530,156.83 533.52,156.87" fill="none" stroke="#2d64e0" stroke-width="1.7" stroke-dasharray="1.5 2.1" stroke-linejoin="round" />
</g>
<line x1="419.4" y1="113" x2="419.4" y2="198.5" stroke="#777" stroke-width="0.8"/>
<line x1="419.4" y1="198.2" x2="531.5" y2="198.2" stroke="#777" stroke-width="0.8"/>
<line x1="417.2" y1="116.36" x2="419.4" y2="116.36" stroke="#777" stroke-width="0.8"/>
<text transform="translate(416.7,118.96) scale(0.88,1) rotate(0.05)" font-size="7.6" text-anchor="end" fill="#222" class="sm">600</text>
<line x1="418" y1="123.45" x2="419.4" y2="123.45" stroke="#777" stroke-width="0.7"/>
<line x1="417.2" y1="130.54" x2="419.4" y2="130.54" stroke="#777" stroke-width="0.8"/>
<text transform="translate(416.7,133.14) scale(0.88,1) rotate(0.05)" font-size="7.6" text-anchor="end" fill="#222" class="sm">400</text>
<line x1="418" y1="137.63" x2="419.4" y2="137.63" stroke="#777" stroke-width="0.7"/>
<line x1="417.2" y1="144.72" x2="419.4" y2="144.72" stroke="#777" stroke-width="0.8"/>
<text transform="translate(416.7,147.32) scale(0.88,1) rotate(0.05)" font-size="7.6" text-anchor="end" fill="#222" class="sm">200</text>
<line x1="418" y1="151.81" x2="419.4" y2="151.81" stroke="#777" stroke-width="0.7"/>
<line x1="417.2" y1="158.9" x2="419.4" y2="158.9" stroke="#777" stroke-width="0.8"/>
<text transform="translate(416.7,161.5) scale(0.88,1) rotate(0.05)" font-size="7.6" text-anchor="end" fill="#222" class="sm">0</text>
<line x1="418" y1="165.99" x2="419.4" y2="165.99" stroke="#777" stroke-width="0.7"/>
<line x1="417.2" y1="173.08" x2="419.4" y2="173.08" stroke="#777" stroke-width="0.8"/>
<text transform="translate(416.7,175.68) scale(0.88,1) rotate(0.05)" font-size="7.6" text-anchor="end" fill="#222" class="sm">−200</text>
<line x1="418" y1="180.17" x2="419.4" y2="180.17" stroke="#777" stroke-width="0.7"/>
<line x1="417.2" y1="187.26" x2="419.4" y2="187.26" stroke="#777" stroke-width="0.8"/>
<text transform="translate(416.7,189.86) scale(0.88,1) rotate(0.05)" font-size="7.6" text-anchor="end" fill="#222" class="sm">−400</text>
<line x1="418" y1="194.35" x2="419.4" y2="194.35" stroke="#777" stroke-width="0.7"/>
<line x1="419.4" y1="198.2" x2="419.4" y2="199.8" stroke="#777" stroke-width="0.7"/>
<text transform="translate(419.4,206.2) scale(0.9,1) rotate(0.05)" font-size="7.6" text-anchor="middle" fill="#222" class="sm">0.0</text>
<line x1="427.32" y1="198.2" x2="427.32" y2="199.2" stroke="#777" stroke-width="0.7"/>
<line x1="435.25" y1="198.2" x2="435.25" y2="199.8" stroke="#777" stroke-width="0.7"/>
<text transform="translate(435.25,206.2) scale(0.9,1) rotate(0.05)" font-size="7.6" text-anchor="middle" fill="#222" class="sm">0.1</text>
<line x1="443.17" y1="198.2" x2="443.17" y2="199.2" stroke="#777" stroke-width="0.7"/>
<line x1="451.1" y1="198.2" x2="451.1" y2="199.8" stroke="#777" stroke-width="0.7"/>
<text transform="translate(451.1,206.2) scale(0.9,1) rotate(0.05)" font-size="7.6" text-anchor="middle" fill="#222" class="sm">0.2</text>
<line x1="459.02" y1="198.2" x2="459.02" y2="199.2" stroke="#777" stroke-width="0.7"/>
<line x1="466.95" y1="198.2" x2="466.95" y2="199.8" stroke="#777" stroke-width="0.7"/>
<text transform="translate(466.95,206.2) scale(0.9,1) rotate(0.05)" font-size="7.6" text-anchor="middle" fill="#222" class="sm">0.3</text>
<line x1="474.88" y1="198.2" x2="474.88" y2="199.2" stroke="#777" stroke-width="0.7"/>
<line x1="482.8" y1="198.2" x2="482.8" y2="199.8" stroke="#777" stroke-width="0.7"/>
<text transform="translate(482.8,206.2) scale(0.9,1) rotate(0.05)" font-size="7.6" text-anchor="middle" fill="#222" class="sm">0.4</text>
<line x1="490.72" y1="198.2" x2="490.72" y2="199.2" stroke="#777" stroke-width="0.7"/>
<line x1="498.65" y1="198.2" x2="498.65" y2="199.8" stroke="#777" stroke-width="0.7"/>
<text transform="translate(498.65,206.2) scale(0.9,1) rotate(0.05)" font-size="7.6" text-anchor="middle" fill="#222" class="sm">0.5</text>
<line x1="506.57" y1="198.2" x2="506.57" y2="199.2" stroke="#777" stroke-width="0.7"/>
<line x1="514.5" y1="198.2" x2="514.5" y2="199.8" stroke="#777" stroke-width="0.7"/>
<text transform="translate(514.5,206.2) scale(0.9,1) rotate(0.05)" font-size="7.6" text-anchor="middle" fill="#222" class="sm">0.6</text>
<line x1="522.42" y1="198.2" x2="522.42" y2="199.2" stroke="#777" stroke-width="0.7"/>
<line x1="530.35" y1="198.2" x2="530.35" y2="199.8" stroke="#777" stroke-width="0.7"/>
<text transform="translate(530.35,206.2) scale(0.9,1) rotate(0.05)" font-size="7.6" text-anchor="middle" fill="#222" class="sm">0.7</text>
<polyline points="554.9,193.04 555.76,192.99 556.63,192.88 557.49,192.71 558.36,192.48 559.22,192.19 560.08,191.83 560.95,191.41 561.81,190.91 562.68,190.34 563.54,189.7 564.4,188.98 565.27,188.18 566.13,187.31 567,186.37 567.86,185.35 568.72,184.25 569.59,183.08 570.45,181.85 571.32,180.54 572.18,179.17 573.04,177.74 573.91,176.26 574.77,174.72 575.64,173.14 576.5,171.52 577.36,169.87 578.23,168.19 579.09,166.49 579.96,164.78 580.82,163.06 581.68,161.34 582.55,159.63 583.41,157.94 584.28,156.26 585.14,154.62 586,153.01 586.87,151.43 587.73,149.9 588.6,148.43 589.46,147 590.32,145.64 591.19,144.33 592.05,143.09 592.92,141.92 593.78,140.81 594.64,139.78 595.51,138.81 596.37,137.91 597.24,137.07 598.1,136.31 598.96,135.6 599.83,134.96 600.69,134.38 601.56,133.85 602.42,133.37 603.28,132.95 604.15,132.57 605.01,132.23 605.88,131.93 606.74,131.67 607.6,131.44 608.47,131.23 609.33,131.05 610.2,130.9 611.06,130.76 611.92,130.65 612.79,130.55 613.65,130.47 614.52,130.4 615.38,130.35 616.24,130.32 617.11,130.3 617.97,130.3 618.84,130.32 619.7,130.36 620.56,130.43 621.43,130.52 622.29,130.65 623.16,130.8 624.02,131 624.88,131.23 625.75,131.51 626.61,131.83 627.48,132.21 628.34,132.63 629.2,133.12 630.07,133.66 630.93,134.26 631.8,134.92 632.66,135.65 633.52,136.44 634.39,137.29 635.25,138.21 636.12,139.2 636.98,140.25 637.84,141.36 638.71,142.52 639.57,143.75 640.44,145.03 641.3,146.35 642.16,147.72 643.03,149.14 643.89,150.59 644.76,152.06 645.62,153.57 646.48,155.1 647.35,156.64 648.21,158.18 649.08,159.74 649.94,161.29 650.8,162.83 651.67,164.36 652.53,165.87 653.4,167.36 654.26,168.82 655.12,170.26 655.99,171.65 656.85,173.01 657.72,174.33 658.58,175.61 659.44,176.84 660.31,178.02 661.17,179.16 662.04,180.25 662.9,181.29 663.76,182.28 664.63,183.23 665.49,184.12 666.36,184.97 667.22,185.77 668.08,186.53 668.95,187.24 669.81,187.91 670.68,188.54 671.54,189.12 672.4,189.67 673.27,190.17 674.13,190.63 675,191.06 675.86,191.45 676.72,191.8 677.59,192.1 678.45,192.37 679.32,192.6 680.18,192.78 681.04,192.92 681.91,193.01 682.77,193.05 683.64,193.04 684.5,192.98" fill="none" stroke="#e82a2e" stroke-width="1.0" stroke-linejoin="round" />
<polyline points="554.9,192.54 555.76,192.49 556.63,192.38 557.49,192.21 558.36,191.98 559.22,191.69 560.08,191.33 560.95,190.91 561.81,190.41 562.68,189.84 563.54,189.2 564.4,188.48 565.27,187.68 566.13,186.81 567,185.87 567.86,184.85 568.72,183.75 569.59,182.58 570.45,181.35 571.32,180.04 572.18,178.67 573.04,177.24 573.91,175.76 574.77,174.22 575.64,172.64 576.5,171.02 577.36,169.37 578.23,167.69 579.09,165.99 579.96,164.28 580.82,162.56 581.68,160.84 582.55,159.13 583.41,157.44 584.28,155.76 585.14,154.12 586,152.51 586.87,150.93 587.73,149.4 588.6,147.93 589.46,146.5 590.32,145.14 591.19,143.83 592.05,142.59 592.92,141.42 593.78,140.31 594.64,139.28 595.51,138.31 596.37,137.41 597.24,136.57 598.1,135.81 598.96,135.1 599.83,134.46 600.69,133.88 601.56,133.35 602.42,132.87 603.28,132.45 604.15,132.07 605.01,131.73 605.88,131.43 606.74,131.17 607.6,130.94 608.47,130.73 609.33,130.55 610.2,130.4 611.06,130.26 611.92,130.15 612.79,130.05 613.65,129.97 614.52,129.9 615.38,129.85 616.24,129.82 617.11,129.8 617.97,129.8 618.84,129.82 619.7,129.86 620.56,129.93 621.43,130.02 622.29,130.15 623.16,130.3 624.02,130.5 624.88,130.73 625.75,131.01 626.61,131.33 627.48,131.71 628.34,132.13 629.2,132.62 630.07,133.16 630.93,133.76 631.8,134.42 632.66,135.15 633.52,135.94 634.39,136.79 635.25,137.71 636.12,138.7 636.98,139.75 637.84,140.86 638.71,142.02 639.57,143.25 640.44,144.53 641.3,145.85 642.16,147.22 643.03,148.64 643.89,150.09 644.76,151.56 645.62,153.07 646.48,154.6 647.35,156.14 648.21,157.68 649.08,159.24 649.94,160.79 650.8,162.33 651.67,163.86 652.53,165.37 653.4,166.86 654.26,168.32 655.12,169.76 655.99,171.15 656.85,172.51 657.72,173.83 658.58,175.11 659.44,176.34 660.31,177.52 661.17,178.66 662.04,179.75 662.9,180.79 663.76,181.78 664.63,182.73 665.49,183.62 666.36,184.47 667.22,185.27 668.08,186.03 668.95,186.74 669.81,187.41 670.68,188.04 671.54,188.62 672.4,189.17 673.27,189.67 674.13,190.13 675,190.56 675.86,190.95 676.72,191.3 677.59,191.6 678.45,191.87 679.32,192.1 680.18,192.28 681.04,192.42 681.91,192.51 682.77,192.55 683.64,192.54 684.5,192.48" fill="none" stroke="#363a5a" stroke-width="1.0" stroke-linejoin="round" />
<polyline points="554.9,191.24 555.76,191.19 556.63,191.08 557.49,190.91 558.36,190.68 559.22,190.39 560.08,190.03 560.95,189.61 561.81,189.11 562.68,188.54 563.54,187.9 564.4,187.18 565.27,186.38 566.13,185.51 567,184.57 567.86,183.55 568.72,182.45 569.59,181.28 570.45,180.05 571.32,178.74 572.18,177.37 573.04,175.94 573.91,174.46 574.77,172.92 575.64,171.34 576.5,169.72 577.36,168.07 578.23,166.39 579.09,164.69 579.96,162.98 580.82,161.26 581.68,159.54 582.55,157.83 583.41,156.14 584.28,154.46 585.14,152.82 586,151.21 586.87,149.63 587.73,148.1 588.6,146.63 589.46,145.2 590.32,143.84 591.19,142.53 592.05,141.29 592.92,140.12 593.78,139.01 594.64,137.98 595.51,137.01 596.37,136.11 597.24,135.27 598.1,134.51 598.96,133.8 599.83,133.16 600.69,132.58 601.56,132.05 602.42,131.57 603.28,131.15 604.15,130.77 605.01,130.43 605.88,130.13 606.74,129.87 607.6,129.64 608.47,129.43 609.33,129.25 610.2,129.1 611.06,128.96 611.92,128.85 612.79,128.75 613.65,128.67 614.52,128.6 615.38,128.55 616.24,128.52 617.11,128.5 617.97,128.5 618.84,128.52 619.7,128.56 620.56,128.63 621.43,128.72 622.29,128.85 623.16,129 624.02,129.2 624.88,129.43 625.75,129.71 626.61,130.03 627.48,130.41 628.34,130.83 629.2,131.32 630.07,131.86 630.93,132.46 631.8,133.12 632.66,133.85 633.52,134.64 634.39,135.49 635.25,136.41 636.12,137.4 636.98,138.45 637.84,139.56 638.71,140.72 639.57,141.95 640.44,143.23 641.3,144.55 642.16,145.92 643.03,147.34 643.89,148.79 644.76,150.26 645.62,151.77 646.48,153.3 647.35,154.84 648.21,156.38 649.08,157.94 649.94,159.49 650.8,161.03 651.67,162.56 652.53,164.07 653.4,165.56 654.26,167.02 655.12,168.46 655.99,169.85 656.85,171.21 657.72,172.53 658.58,173.81 659.44,175.04 660.31,176.22 661.17,177.36 662.04,178.45 662.9,179.49 663.76,180.48 664.63,181.43 665.49,182.32 666.36,183.17 667.22,183.97 668.08,184.73 668.95,185.44 669.81,186.11 670.68,186.74 671.54,187.32 672.4,187.87 673.27,188.37 674.13,188.83 675,189.26 675.86,189.65 676.72,190 677.59,190.3 678.45,190.57 679.32,190.8 680.18,190.98 681.04,191.12 681.91,191.21 682.77,191.25 683.64,191.24 684.5,191.18" fill="none" stroke="#4a7de8" stroke-width="1.0" stroke-dasharray="1 0.8" stroke-linejoin="round" />
<line x1="554.9" y1="122.3" x2="554.9" y2="200.8" stroke="#999" stroke-width="0.8"/>
<line x1="554.9" y1="200.8" x2="685" y2="200.8" stroke="#999" stroke-width="0.8"/>
<line x1="552.6" y1="128.35" x2="554.9" y2="128.35" stroke="#999" stroke-width="0.7"/>
<text transform="translate(552.2,130.15) rotate(0.05)" font-size="5.2" text-anchor="end" fill="#1a1a1a" font-family="Liberation Sans" style="stroke-width:0.1px">50</text>
<line x1="553.6" y1="144.72" x2="554.9" y2="144.72" stroke="#999" stroke-width="0.6"/>
<line x1="552.6" y1="161.1" x2="554.9" y2="161.1" stroke="#999" stroke-width="0.7"/>
<text transform="translate(552.2,162.9) rotate(0.05)" font-size="5.2" text-anchor="end" fill="#1a1a1a" font-family="Liberation Sans" style="stroke-width:0.1px">0</text>
<line x1="553.6" y1="177.47" x2="554.9" y2="177.47" stroke="#999" stroke-width="0.6"/>
<line x1="552.6" y1="193.85" x2="554.9" y2="193.85" stroke="#999" stroke-width="0.7"/>
<text transform="translate(552.2,195.65) rotate(0.05)" font-size="5.2" text-anchor="end" fill="#1a1a1a" font-family="Liberation Sans" style="stroke-width:0.1px">−50</text>
<line x1="557.9" y1="200.8" x2="557.9" y2="202.2" stroke="#999" stroke-width="0.6"/>
<line x1="588.6" y1="200.8" x2="588.6" y2="202.2" stroke="#999" stroke-width="0.6"/>
<text transform="translate(588.6,208.8) rotate(0.05)" font-size="5.2" text-anchor="middle" fill="#1a1a1a" font-family="Liberation Sans" style="stroke-width:0.1px">7</text>
<line x1="619.3" y1="200.8" x2="619.3" y2="202.2" stroke="#999" stroke-width="0.6"/>
<line x1="650" y1="200.8" x2="650" y2="202.2" stroke="#999" stroke-width="0.6"/>
<text transform="translate(650,208.8) rotate(0.05)" font-size="5.2" text-anchor="middle" fill="#1a1a1a" font-family="Liberation Sans" style="stroke-width:0.1px">8</text>
<line x1="680.7" y1="200.8" x2="680.7" y2="202.2" stroke="#999" stroke-width="0.6"/>
<rect x="609.1" y="0.8" width="73.4" height="37.6" fill="#fff" stroke="#aaa" stroke-width="0.8"/>
<line x1="610" y1="7.2" x2="633.5" y2="7.2" stroke="#555" stroke-width="1.1"/>
<line x1="609.9" y1="20.4" x2="633.5" y2="20.4" stroke="#e82a2e" stroke-width="1.1" stroke-dasharray="4.6 4.4"/>
<line x1="610" y1="33" x2="633.5" y2="33" stroke="#2d64e0" stroke-width="1.1" stroke-dasharray="1 0.8"/>
<text transform="translate(636.2,10.8) rotate(0.05)" font-size="10" text-anchor="start" fill="#2a2a2a" style="stroke:none">PPNFTSM</text>
<text transform="translate(636.2,23.9) rotate(0.05)" font-size="10" text-anchor="start" fill="#2a2a2a" style="stroke:none">PPSM</text>
<text transform="translate(636.2,36.4) rotate(0.05)" font-size="10" text-anchor="start" fill="#2a2a2a" style="stroke:none">NFTSM</text></svg>
</body></html>
